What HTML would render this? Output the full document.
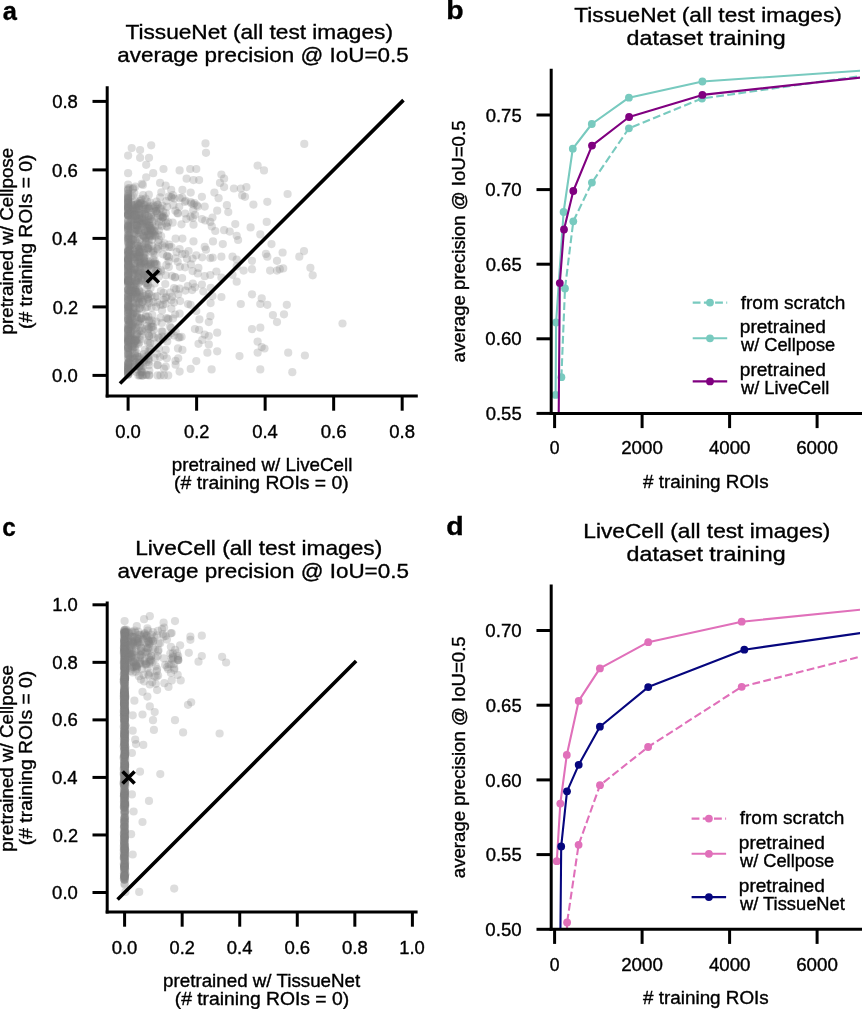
<!DOCTYPE html>
<html><head><meta charset="utf-8"><style>
html,body{margin:0;padding:0;background:#fff;}
svg{display:block;will-change:transform;}
text{font-family:"Liberation Sans", sans-serif; fill:#000; stroke:#000; stroke-width:0.35px;}
</style></head><body>
<svg width="862" height="1009" viewBox="0 0 862 1009">
<rect width="862" height="1009" fill="#fff"/>
<g>
<g fill="#808080" fill-opacity="0.27">
<circle cx="128.1" cy="260.9" r="4.1"/>
<circle cx="128.1" cy="211.0" r="4.1"/>
<circle cx="128.1" cy="233.3" r="4.1"/>
<circle cx="128.1" cy="334.1" r="4.1"/>
<circle cx="128.1" cy="320.4" r="4.1"/>
<circle cx="128.1" cy="215.3" r="4.1"/>
<circle cx="128.1" cy="374.4" r="4.1"/>
<circle cx="128.1" cy="224.9" r="4.1"/>
<circle cx="128.1" cy="229.3" r="4.1"/>
<circle cx="128.1" cy="289.7" r="4.1"/>
<circle cx="128.1" cy="319.9" r="4.1"/>
<circle cx="128.1" cy="324.4" r="4.1"/>
<circle cx="128.1" cy="328.7" r="4.1"/>
<circle cx="128.1" cy="293.8" r="4.1"/>
<circle cx="128.1" cy="282.9" r="4.1"/>
<circle cx="128.1" cy="274.0" r="4.1"/>
<circle cx="128.1" cy="193.0" r="4.1"/>
<circle cx="128.1" cy="230.2" r="4.1"/>
<circle cx="128.1" cy="261.4" r="4.1"/>
<circle cx="128.1" cy="194.2" r="4.1"/>
<circle cx="128.1" cy="335.9" r="4.1"/>
<circle cx="128.1" cy="346.0" r="4.1"/>
<circle cx="128.1" cy="263.2" r="4.1"/>
<circle cx="128.1" cy="367.3" r="4.1"/>
<circle cx="128.1" cy="368.9" r="4.1"/>
<circle cx="128.1" cy="281.1" r="4.1"/>
<circle cx="128.1" cy="290.0" r="4.1"/>
<circle cx="128.1" cy="207.3" r="4.1"/>
<circle cx="128.1" cy="260.1" r="4.1"/>
<circle cx="128.1" cy="281.2" r="4.1"/>
<circle cx="128.1" cy="284.4" r="4.1"/>
<circle cx="128.1" cy="330.0" r="4.1"/>
<circle cx="128.1" cy="373.2" r="4.1"/>
<circle cx="128.1" cy="340.1" r="4.1"/>
<circle cx="128.1" cy="248.6" r="4.1"/>
<circle cx="128.1" cy="338.6" r="4.1"/>
<circle cx="128.1" cy="307.7" r="4.1"/>
<circle cx="128.1" cy="374.7" r="4.1"/>
<circle cx="128.1" cy="223.3" r="4.1"/>
<circle cx="128.1" cy="347.1" r="4.1"/>
<circle cx="128.1" cy="326.4" r="4.1"/>
<circle cx="128.1" cy="214.1" r="4.1"/>
<circle cx="128.1" cy="282.0" r="4.1"/>
<circle cx="128.1" cy="220.2" r="4.1"/>
<circle cx="128.1" cy="258.2" r="4.1"/>
<circle cx="128.1" cy="239.5" r="4.1"/>
<circle cx="128.1" cy="358.6" r="4.1"/>
<circle cx="128.1" cy="276.2" r="4.1"/>
<circle cx="128.1" cy="282.4" r="4.1"/>
<circle cx="128.1" cy="215.7" r="4.1"/>
<circle cx="128.1" cy="309.2" r="4.1"/>
<circle cx="128.1" cy="265.8" r="4.1"/>
<circle cx="128.1" cy="364.5" r="4.1"/>
<circle cx="128.1" cy="304.4" r="4.1"/>
<circle cx="128.1" cy="316.2" r="4.1"/>
<circle cx="128.1" cy="347.9" r="4.1"/>
<circle cx="128.1" cy="225.8" r="4.1"/>
<circle cx="128.1" cy="305.9" r="4.1"/>
<circle cx="128.1" cy="196.1" r="4.1"/>
<circle cx="128.1" cy="267.3" r="4.1"/>
<circle cx="128.1" cy="264.5" r="4.1"/>
<circle cx="128.1" cy="258.5" r="4.1"/>
<circle cx="128.1" cy="251.4" r="4.1"/>
<circle cx="128.1" cy="347.8" r="4.1"/>
<circle cx="128.1" cy="294.7" r="4.1"/>
<circle cx="128.1" cy="331.5" r="4.1"/>
<circle cx="128.1" cy="301.6" r="4.1"/>
<circle cx="128.1" cy="357.7" r="4.1"/>
<circle cx="128.1" cy="198.1" r="4.1"/>
<circle cx="128.1" cy="336.0" r="4.1"/>
<circle cx="128.1" cy="252.3" r="4.1"/>
<circle cx="128.1" cy="320.4" r="4.1"/>
<circle cx="128.1" cy="215.2" r="4.1"/>
<circle cx="128.1" cy="254.1" r="4.1"/>
<circle cx="128.1" cy="351.3" r="4.1"/>
<circle cx="128.1" cy="220.6" r="4.1"/>
<circle cx="128.1" cy="202.3" r="4.1"/>
<circle cx="128.1" cy="209.8" r="4.1"/>
<circle cx="128.1" cy="271.0" r="4.1"/>
<circle cx="128.1" cy="348.7" r="4.1"/>
<circle cx="128.1" cy="340.1" r="4.1"/>
<circle cx="128.1" cy="205.4" r="4.1"/>
<circle cx="128.1" cy="274.2" r="4.1"/>
<circle cx="128.1" cy="342.3" r="4.1"/>
<circle cx="128.1" cy="213.4" r="4.1"/>
<circle cx="128.1" cy="257.8" r="4.1"/>
<circle cx="128.1" cy="271.0" r="4.1"/>
<circle cx="128.1" cy="306.4" r="4.1"/>
<circle cx="128.1" cy="300.1" r="4.1"/>
<circle cx="128.1" cy="331.5" r="4.1"/>
<circle cx="128.1" cy="368.4" r="4.1"/>
<circle cx="128.1" cy="214.8" r="4.1"/>
<circle cx="128.1" cy="289.7" r="4.1"/>
<circle cx="128.1" cy="275.1" r="4.1"/>
<circle cx="128.1" cy="316.4" r="4.1"/>
<circle cx="128.1" cy="237.7" r="4.1"/>
<circle cx="128.1" cy="370.8" r="4.1"/>
<circle cx="128.1" cy="307.2" r="4.1"/>
<circle cx="128.1" cy="369.8" r="4.1"/>
<circle cx="128.1" cy="352.9" r="4.1"/>
<circle cx="128.1" cy="198.2" r="4.1"/>
<circle cx="128.1" cy="254.9" r="4.1"/>
<circle cx="128.1" cy="296.9" r="4.1"/>
<circle cx="128.1" cy="279.4" r="4.1"/>
<circle cx="128.1" cy="215.5" r="4.1"/>
<circle cx="128.1" cy="312.3" r="4.1"/>
<circle cx="128.1" cy="267.2" r="4.1"/>
<circle cx="128.1" cy="250.1" r="4.1"/>
<circle cx="128.1" cy="310.3" r="4.1"/>
<circle cx="128.1" cy="280.3" r="4.1"/>
<circle cx="128.1" cy="235.2" r="4.1"/>
<circle cx="128.1" cy="208.8" r="4.1"/>
<circle cx="128.1" cy="347.7" r="4.1"/>
<circle cx="128.1" cy="204.4" r="4.1"/>
<circle cx="128.1" cy="374.5" r="4.1"/>
<circle cx="128.1" cy="237.4" r="4.1"/>
<circle cx="128.1" cy="226.9" r="4.1"/>
<circle cx="128.1" cy="350.3" r="4.1"/>
<circle cx="128.1" cy="298.6" r="4.1"/>
<circle cx="128.1" cy="226.0" r="4.1"/>
<circle cx="128.1" cy="372.8" r="4.1"/>
<circle cx="128.1" cy="260.2" r="4.1"/>
<circle cx="128.1" cy="230.1" r="4.1"/>
<circle cx="128.1" cy="281.4" r="4.1"/>
<circle cx="128.1" cy="242.4" r="4.1"/>
<circle cx="128.1" cy="333.9" r="4.1"/>
<circle cx="128.1" cy="339.0" r="4.1"/>
<circle cx="128.1" cy="308.9" r="4.1"/>
<circle cx="128.1" cy="342.5" r="4.1"/>
<circle cx="128.1" cy="312.0" r="4.1"/>
<circle cx="128.1" cy="201.7" r="4.1"/>
<circle cx="128.1" cy="270.3" r="4.1"/>
<circle cx="128.1" cy="313.1" r="4.1"/>
<circle cx="128.1" cy="325.6" r="4.1"/>
<circle cx="128.1" cy="201.0" r="4.1"/>
<circle cx="128.1" cy="294.0" r="4.1"/>
<circle cx="128.1" cy="195.8" r="4.1"/>
<circle cx="128.1" cy="280.9" r="4.1"/>
<circle cx="128.1" cy="279.9" r="4.1"/>
<circle cx="128.1" cy="211.1" r="4.1"/>
<circle cx="128.1" cy="239.3" r="4.1"/>
<circle cx="128.1" cy="269.0" r="4.1"/>
<circle cx="128.1" cy="297.2" r="4.1"/>
<circle cx="128.1" cy="214.5" r="4.1"/>
<circle cx="128.1" cy="300.0" r="4.1"/>
<circle cx="128.1" cy="206.3" r="4.1"/>
<circle cx="128.1" cy="362.8" r="4.1"/>
<circle cx="128.1" cy="296.6" r="4.1"/>
<circle cx="128.1" cy="280.2" r="4.1"/>
<circle cx="128.1" cy="201.2" r="4.1"/>
<circle cx="128.1" cy="329.4" r="4.1"/>
<circle cx="128.1" cy="227.7" r="4.1"/>
<circle cx="128.1" cy="251.4" r="4.1"/>
<circle cx="128.1" cy="244.0" r="4.1"/>
<circle cx="128.1" cy="260.0" r="4.1"/>
<circle cx="128.1" cy="197.4" r="4.1"/>
<circle cx="128.1" cy="314.4" r="4.1"/>
<circle cx="128.1" cy="302.4" r="4.1"/>
<circle cx="128.1" cy="338.2" r="4.1"/>
<circle cx="128.1" cy="366.1" r="4.1"/>
<circle cx="128.1" cy="336.4" r="4.1"/>
<circle cx="128.1" cy="207.7" r="4.1"/>
<circle cx="128.1" cy="221.4" r="4.1"/>
<circle cx="128.1" cy="354.8" r="4.1"/>
<circle cx="128.1" cy="264.8" r="4.1"/>
<circle cx="128.1" cy="287.6" r="4.1"/>
<circle cx="128.1" cy="266.4" r="4.1"/>
<circle cx="128.1" cy="254.6" r="4.1"/>
<circle cx="128.1" cy="319.2" r="4.1"/>
<circle cx="128.1" cy="199.2" r="4.1"/>
<circle cx="128.1" cy="290.0" r="4.1"/>
<circle cx="128.1" cy="260.3" r="4.1"/>
<circle cx="128.1" cy="259.0" r="4.1"/>
<circle cx="128.1" cy="341.7" r="4.1"/>
<circle cx="128.1" cy="364.1" r="4.1"/>
<circle cx="128.1" cy="300.0" r="4.1"/>
<circle cx="128.1" cy="235.4" r="4.1"/>
<circle cx="128.1" cy="226.0" r="4.1"/>
<circle cx="128.1" cy="241.6" r="4.1"/>
<circle cx="128.1" cy="354.7" r="4.1"/>
<circle cx="128.1" cy="208.0" r="4.1"/>
<circle cx="128.1" cy="228.4" r="4.1"/>
<circle cx="128.1" cy="214.6" r="4.1"/>
<circle cx="128.1" cy="279.5" r="4.1"/>
<circle cx="128.1" cy="207.6" r="4.1"/>
<circle cx="128.1" cy="366.9" r="4.1"/>
<circle cx="128.1" cy="369.8" r="4.1"/>
<circle cx="128.1" cy="371.7" r="4.1"/>
<circle cx="128.1" cy="329.1" r="4.1"/>
<circle cx="128.1" cy="329.9" r="4.1"/>
<circle cx="128.1" cy="341.0" r="4.1"/>
<circle cx="128.1" cy="271.5" r="4.1"/>
<circle cx="128.1" cy="368.3" r="4.1"/>
<circle cx="128.1" cy="267.2" r="4.1"/>
<circle cx="128.1" cy="345.0" r="4.1"/>
<circle cx="128.1" cy="251.2" r="4.1"/>
<circle cx="128.1" cy="371.5" r="4.1"/>
<circle cx="128.1" cy="318.5" r="4.1"/>
<circle cx="128.1" cy="203.5" r="4.1"/>
<circle cx="128.1" cy="276.7" r="4.1"/>
<circle cx="128.1" cy="184.7" r="4.1"/>
<circle cx="128.1" cy="188.4" r="4.1"/>
<circle cx="128.1" cy="189.5" r="4.1"/>
<circle cx="128.1" cy="199.6" r="4.1"/>
<circle cx="128.1" cy="190.4" r="4.1"/>
<circle cx="128.1" cy="203.2" r="4.1"/>
<circle cx="136.3" cy="284.4" r="4.1"/>
<circle cx="146.3" cy="209.0" r="4.1"/>
<circle cx="145.3" cy="241.7" r="4.1"/>
<circle cx="140.5" cy="264.1" r="4.1"/>
<circle cx="137.6" cy="271.9" r="4.1"/>
<circle cx="129.2" cy="253.1" r="4.1"/>
<circle cx="139.0" cy="218.6" r="4.1"/>
<circle cx="130.2" cy="281.8" r="4.1"/>
<circle cx="133.5" cy="254.9" r="4.1"/>
<circle cx="130.4" cy="358.8" r="4.1"/>
<circle cx="130.2" cy="307.0" r="4.1"/>
<circle cx="139.6" cy="252.6" r="4.1"/>
<circle cx="135.6" cy="228.8" r="4.1"/>
<circle cx="130.1" cy="290.6" r="4.1"/>
<circle cx="148.6" cy="233.4" r="4.1"/>
<circle cx="136.6" cy="257.8" r="4.1"/>
<circle cx="129.2" cy="308.0" r="4.1"/>
<circle cx="132.0" cy="279.5" r="4.1"/>
<circle cx="144.6" cy="219.8" r="4.1"/>
<circle cx="137.6" cy="225.7" r="4.1"/>
<circle cx="166.6" cy="226.1" r="4.1"/>
<circle cx="128.3" cy="341.9" r="4.1"/>
<circle cx="133.8" cy="347.5" r="4.1"/>
<circle cx="142.8" cy="224.2" r="4.1"/>
<circle cx="158.0" cy="246.6" r="4.1"/>
<circle cx="130.0" cy="350.7" r="4.1"/>
<circle cx="129.1" cy="234.9" r="4.1"/>
<circle cx="131.2" cy="244.8" r="4.1"/>
<circle cx="131.3" cy="281.7" r="4.1"/>
<circle cx="131.8" cy="324.4" r="4.1"/>
<circle cx="146.2" cy="221.4" r="4.1"/>
<circle cx="142.2" cy="218.5" r="4.1"/>
<circle cx="145.1" cy="261.3" r="4.1"/>
<circle cx="143.1" cy="195.1" r="4.1"/>
<circle cx="131.1" cy="263.2" r="4.1"/>
<circle cx="140.2" cy="266.2" r="4.1"/>
<circle cx="130.3" cy="358.1" r="4.1"/>
<circle cx="135.2" cy="302.2" r="4.1"/>
<circle cx="135.6" cy="263.0" r="4.1"/>
<circle cx="131.8" cy="297.0" r="4.1"/>
<circle cx="128.7" cy="250.7" r="4.1"/>
<circle cx="144.1" cy="222.0" r="4.1"/>
<circle cx="138.3" cy="298.5" r="4.1"/>
<circle cx="134.2" cy="234.5" r="4.1"/>
<circle cx="136.1" cy="233.5" r="4.1"/>
<circle cx="136.4" cy="210.7" r="4.1"/>
<circle cx="134.2" cy="232.8" r="4.1"/>
<circle cx="148.9" cy="225.5" r="4.1"/>
<circle cx="130.6" cy="333.6" r="4.1"/>
<circle cx="138.3" cy="248.2" r="4.1"/>
<circle cx="136.6" cy="207.5" r="4.1"/>
<circle cx="133.6" cy="358.5" r="4.1"/>
<circle cx="152.5" cy="236.1" r="4.1"/>
<circle cx="133.6" cy="343.2" r="4.1"/>
<circle cx="131.3" cy="241.9" r="4.1"/>
<circle cx="131.2" cy="257.1" r="4.1"/>
<circle cx="142.3" cy="214.0" r="4.1"/>
<circle cx="148.0" cy="263.6" r="4.1"/>
<circle cx="132.9" cy="239.5" r="4.1"/>
<circle cx="135.8" cy="257.2" r="4.1"/>
<circle cx="130.8" cy="329.2" r="4.1"/>
<circle cx="140.0" cy="295.4" r="4.1"/>
<circle cx="147.5" cy="227.4" r="4.1"/>
<circle cx="132.2" cy="208.8" r="4.1"/>
<circle cx="131.7" cy="215.4" r="4.1"/>
<circle cx="134.5" cy="283.8" r="4.1"/>
<circle cx="139.5" cy="215.5" r="4.1"/>
<circle cx="145.0" cy="209.4" r="4.1"/>
<circle cx="135.3" cy="231.1" r="4.1"/>
<circle cx="128.2" cy="283.0" r="4.1"/>
<circle cx="128.6" cy="363.1" r="4.1"/>
<circle cx="147.6" cy="224.5" r="4.1"/>
<circle cx="129.7" cy="321.5" r="4.1"/>
<circle cx="136.3" cy="282.3" r="4.1"/>
<circle cx="128.5" cy="362.9" r="4.1"/>
<circle cx="155.8" cy="210.9" r="4.1"/>
<circle cx="133.5" cy="289.2" r="4.1"/>
<circle cx="131.8" cy="247.9" r="4.1"/>
<circle cx="139.6" cy="308.6" r="4.1"/>
<circle cx="141.5" cy="278.0" r="4.1"/>
<circle cx="133.3" cy="358.1" r="4.1"/>
<circle cx="134.2" cy="291.6" r="4.1"/>
<circle cx="131.6" cy="340.2" r="4.1"/>
<circle cx="128.7" cy="274.0" r="4.1"/>
<circle cx="132.8" cy="302.1" r="4.1"/>
<circle cx="129.4" cy="213.4" r="4.1"/>
<circle cx="137.1" cy="316.9" r="4.1"/>
<circle cx="132.4" cy="318.7" r="4.1"/>
<circle cx="131.1" cy="286.7" r="4.1"/>
<circle cx="141.8" cy="183.9" r="4.1"/>
<circle cx="142.9" cy="184.9" r="4.1"/>
<circle cx="139.1" cy="262.3" r="4.1"/>
<circle cx="144.7" cy="214.1" r="4.1"/>
<circle cx="149.0" cy="208.3" r="4.1"/>
<circle cx="141.2" cy="280.4" r="4.1"/>
<circle cx="132.0" cy="294.5" r="4.1"/>
<circle cx="167.2" cy="206.8" r="4.1"/>
<circle cx="139.2" cy="257.6" r="4.1"/>
<circle cx="141.3" cy="223.7" r="4.1"/>
<circle cx="130.9" cy="255.6" r="4.1"/>
<circle cx="142.4" cy="234.8" r="4.1"/>
<circle cx="132.0" cy="220.4" r="4.1"/>
<circle cx="129.5" cy="320.3" r="4.1"/>
<circle cx="133.3" cy="303.2" r="4.1"/>
<circle cx="134.8" cy="353.4" r="4.1"/>
<circle cx="152.1" cy="239.8" r="4.1"/>
<circle cx="130.6" cy="313.2" r="4.1"/>
<circle cx="130.9" cy="290.2" r="4.1"/>
<circle cx="132.9" cy="294.3" r="4.1"/>
<circle cx="129.8" cy="253.1" r="4.1"/>
<circle cx="135.7" cy="288.7" r="4.1"/>
<circle cx="129.9" cy="249.5" r="4.1"/>
<circle cx="134.5" cy="205.0" r="4.1"/>
<circle cx="132.0" cy="326.7" r="4.1"/>
<circle cx="161.3" cy="192.4" r="4.1"/>
<circle cx="144.2" cy="260.8" r="4.1"/>
<circle cx="153.2" cy="259.4" r="4.1"/>
<circle cx="141.9" cy="220.4" r="4.1"/>
<circle cx="140.1" cy="249.2" r="4.1"/>
<circle cx="138.8" cy="301.6" r="4.1"/>
<circle cx="129.1" cy="292.7" r="4.1"/>
<circle cx="141.0" cy="198.8" r="4.1"/>
<circle cx="133.1" cy="290.6" r="4.1"/>
<circle cx="133.5" cy="327.1" r="4.1"/>
<circle cx="135.0" cy="289.8" r="4.1"/>
<circle cx="129.6" cy="249.6" r="4.1"/>
<circle cx="142.6" cy="301.7" r="4.1"/>
<circle cx="130.3" cy="222.4" r="4.1"/>
<circle cx="128.5" cy="340.2" r="4.1"/>
<circle cx="138.9" cy="205.9" r="4.1"/>
<circle cx="135.4" cy="270.0" r="4.1"/>
<circle cx="148.5" cy="261.9" r="4.1"/>
<circle cx="141.0" cy="263.3" r="4.1"/>
<circle cx="132.4" cy="346.1" r="4.1"/>
<circle cx="135.0" cy="289.9" r="4.1"/>
<circle cx="143.5" cy="236.1" r="4.1"/>
<circle cx="141.2" cy="318.8" r="4.1"/>
<circle cx="133.1" cy="208.9" r="4.1"/>
<circle cx="134.5" cy="285.8" r="4.1"/>
<circle cx="135.3" cy="186.7" r="4.1"/>
<circle cx="135.2" cy="313.1" r="4.1"/>
<circle cx="133.5" cy="322.1" r="4.1"/>
<circle cx="148.6" cy="220.1" r="4.1"/>
<circle cx="139.4" cy="296.8" r="4.1"/>
<circle cx="128.9" cy="259.3" r="4.1"/>
<circle cx="137.3" cy="219.2" r="4.1"/>
<circle cx="139.4" cy="208.0" r="4.1"/>
<circle cx="150.2" cy="219.0" r="4.1"/>
<circle cx="136.0" cy="303.3" r="4.1"/>
<circle cx="140.0" cy="270.6" r="4.1"/>
<circle cx="129.9" cy="335.3" r="4.1"/>
<circle cx="133.6" cy="307.9" r="4.1"/>
<circle cx="129.3" cy="245.9" r="4.1"/>
<circle cx="130.2" cy="272.6" r="4.1"/>
<circle cx="136.4" cy="291.8" r="4.1"/>
<circle cx="143.8" cy="273.6" r="4.1"/>
<circle cx="132.6" cy="337.6" r="4.1"/>
<circle cx="142.5" cy="273.0" r="4.1"/>
<circle cx="137.0" cy="340.0" r="4.1"/>
<circle cx="137.0" cy="225.4" r="4.1"/>
<circle cx="145.9" cy="209.1" r="4.1"/>
<circle cx="134.4" cy="245.1" r="4.1"/>
<circle cx="128.3" cy="362.5" r="4.1"/>
<circle cx="131.0" cy="268.5" r="4.1"/>
<circle cx="133.1" cy="339.1" r="4.1"/>
<circle cx="143.1" cy="207.2" r="4.1"/>
<circle cx="129.7" cy="188.1" r="4.1"/>
<circle cx="133.4" cy="188.1" r="4.1"/>
<circle cx="142.9" cy="223.1" r="4.1"/>
<circle cx="134.4" cy="193.2" r="4.1"/>
<circle cx="132.0" cy="214.1" r="4.1"/>
<circle cx="136.7" cy="292.2" r="4.1"/>
<circle cx="128.2" cy="258.4" r="4.1"/>
<circle cx="129.4" cy="340.9" r="4.1"/>
<circle cx="129.6" cy="246.0" r="4.1"/>
<circle cx="128.5" cy="365.7" r="4.1"/>
<circle cx="131.4" cy="334.7" r="4.1"/>
<circle cx="133.2" cy="239.8" r="4.1"/>
<circle cx="135.5" cy="273.8" r="4.1"/>
<circle cx="137.8" cy="209.2" r="4.1"/>
<circle cx="135.7" cy="322.6" r="4.1"/>
<circle cx="148.7" cy="244.9" r="4.1"/>
<circle cx="130.5" cy="320.5" r="4.1"/>
<circle cx="130.7" cy="317.1" r="4.1"/>
<circle cx="129.9" cy="266.5" r="4.1"/>
<circle cx="132.1" cy="286.6" r="4.1"/>
<circle cx="136.0" cy="204.4" r="4.1"/>
<circle cx="135.3" cy="281.4" r="4.1"/>
<circle cx="129.2" cy="322.2" r="4.1"/>
<circle cx="145.1" cy="214.5" r="4.1"/>
<circle cx="136.6" cy="317.5" r="4.1"/>
<circle cx="142.5" cy="216.3" r="4.1"/>
<circle cx="130.5" cy="344.3" r="4.1"/>
<circle cx="131.9" cy="339.8" r="4.1"/>
<circle cx="137.9" cy="230.3" r="4.1"/>
<circle cx="144.7" cy="212.6" r="4.1"/>
<circle cx="131.3" cy="212.2" r="4.1"/>
<circle cx="133.7" cy="309.3" r="4.1"/>
<circle cx="132.2" cy="258.7" r="4.1"/>
<circle cx="139.9" cy="203.6" r="4.1"/>
<circle cx="129.2" cy="326.3" r="4.1"/>
<circle cx="130.2" cy="250.1" r="4.1"/>
<circle cx="128.4" cy="278.8" r="4.1"/>
<circle cx="135.7" cy="225.2" r="4.1"/>
<circle cx="169.0" cy="257.2" r="4.1"/>
<circle cx="128.6" cy="328.1" r="4.1"/>
<circle cx="157.3" cy="204.5" r="4.1"/>
<circle cx="130.3" cy="285.7" r="4.1"/>
<circle cx="139.3" cy="273.5" r="4.1"/>
<circle cx="129.9" cy="315.4" r="4.1"/>
<circle cx="133.6" cy="218.9" r="4.1"/>
<circle cx="130.5" cy="229.2" r="4.1"/>
<circle cx="129.7" cy="242.4" r="4.1"/>
<circle cx="132.9" cy="286.6" r="4.1"/>
<circle cx="133.9" cy="272.9" r="4.1"/>
<circle cx="137.3" cy="273.0" r="4.1"/>
<circle cx="132.8" cy="347.4" r="4.1"/>
<circle cx="128.3" cy="265.5" r="4.1"/>
<circle cx="132.0" cy="345.9" r="4.1"/>
<circle cx="131.8" cy="211.6" r="4.1"/>
<circle cx="128.9" cy="254.2" r="4.1"/>
<circle cx="130.3" cy="233.4" r="4.1"/>
<circle cx="133.4" cy="254.6" r="4.1"/>
<circle cx="139.9" cy="218.2" r="4.1"/>
<circle cx="130.2" cy="286.2" r="4.1"/>
<circle cx="135.0" cy="269.1" r="4.1"/>
<circle cx="132.5" cy="325.8" r="4.1"/>
<circle cx="144.2" cy="275.2" r="4.1"/>
<circle cx="132.8" cy="189.2" r="4.1"/>
<circle cx="131.1" cy="267.5" r="4.1"/>
<circle cx="147.5" cy="231.0" r="4.1"/>
<circle cx="136.8" cy="297.4" r="4.1"/>
<circle cx="133.8" cy="263.7" r="4.1"/>
<circle cx="134.0" cy="212.4" r="4.1"/>
<circle cx="140.5" cy="330.8" r="4.1"/>
<circle cx="129.9" cy="338.6" r="4.1"/>
<circle cx="134.1" cy="258.9" r="4.1"/>
<circle cx="130.2" cy="245.8" r="4.1"/>
<circle cx="145.8" cy="240.5" r="4.1"/>
<circle cx="131.1" cy="368.9" r="4.1"/>
<circle cx="131.5" cy="291.4" r="4.1"/>
<circle cx="131.7" cy="280.6" r="4.1"/>
<circle cx="131.8" cy="205.6" r="4.1"/>
<circle cx="130.4" cy="372.1" r="4.1"/>
<circle cx="144.2" cy="257.6" r="4.1"/>
<circle cx="129.1" cy="359.2" r="4.1"/>
<circle cx="149.0" cy="217.1" r="4.1"/>
<circle cx="140.5" cy="224.5" r="4.1"/>
<circle cx="142.0" cy="246.5" r="4.1"/>
<circle cx="162.4" cy="245.4" r="4.1"/>
<circle cx="136.3" cy="280.8" r="4.1"/>
<circle cx="131.9" cy="316.7" r="4.1"/>
<circle cx="134.0" cy="312.3" r="4.1"/>
<circle cx="139.1" cy="356.8" r="4.1"/>
<circle cx="131.2" cy="331.5" r="4.1"/>
<circle cx="129.3" cy="310.8" r="4.1"/>
<circle cx="138.6" cy="261.5" r="4.1"/>
<circle cx="133.1" cy="294.3" r="4.1"/>
<circle cx="134.1" cy="269.5" r="4.1"/>
<circle cx="131.1" cy="220.3" r="4.1"/>
<circle cx="137.1" cy="225.8" r="4.1"/>
<circle cx="145.8" cy="243.6" r="4.1"/>
<circle cx="138.4" cy="276.4" r="4.1"/>
<circle cx="129.6" cy="355.5" r="4.1"/>
<circle cx="144.1" cy="253.2" r="4.1"/>
<circle cx="136.0" cy="335.4" r="4.1"/>
<circle cx="145.2" cy="232.2" r="4.1"/>
<circle cx="136.7" cy="253.8" r="4.1"/>
<circle cx="143.6" cy="235.6" r="4.1"/>
<circle cx="128.7" cy="354.8" r="4.1"/>
<circle cx="131.6" cy="210.2" r="4.1"/>
<circle cx="129.1" cy="235.8" r="4.1"/>
<circle cx="129.2" cy="324.4" r="4.1"/>
<circle cx="133.4" cy="270.4" r="4.1"/>
<circle cx="132.0" cy="272.4" r="4.1"/>
<circle cx="136.8" cy="269.3" r="4.1"/>
<circle cx="130.8" cy="256.7" r="4.1"/>
<circle cx="132.4" cy="214.4" r="4.1"/>
<circle cx="129.0" cy="291.6" r="4.1"/>
<circle cx="133.3" cy="250.4" r="4.1"/>
<circle cx="137.4" cy="254.3" r="4.1"/>
<circle cx="132.3" cy="204.6" r="4.1"/>
<circle cx="132.8" cy="196.1" r="4.1"/>
<circle cx="129.0" cy="367.4" r="4.1"/>
<circle cx="148.8" cy="222.3" r="4.1"/>
<circle cx="137.9" cy="262.0" r="4.1"/>
<circle cx="133.7" cy="330.3" r="4.1"/>
<circle cx="135.9" cy="252.5" r="4.1"/>
<circle cx="132.1" cy="278.9" r="4.1"/>
<circle cx="150.3" cy="229.4" r="4.1"/>
<circle cx="138.8" cy="255.7" r="4.1"/>
<circle cx="130.4" cy="340.8" r="4.1"/>
<circle cx="138.9" cy="233.1" r="4.1"/>
<circle cx="131.9" cy="356.5" r="4.1"/>
<circle cx="133.0" cy="314.0" r="4.1"/>
<circle cx="130.0" cy="297.9" r="4.1"/>
<circle cx="129.9" cy="338.9" r="4.1"/>
<circle cx="134.1" cy="222.3" r="4.1"/>
<circle cx="132.3" cy="226.0" r="4.1"/>
<circle cx="139.7" cy="204.5" r="4.1"/>
<circle cx="128.3" cy="289.7" r="4.1"/>
<circle cx="136.6" cy="215.0" r="4.1"/>
<circle cx="128.7" cy="238.7" r="4.1"/>
<circle cx="130.8" cy="323.2" r="4.1"/>
<circle cx="139.9" cy="260.9" r="4.1"/>
<circle cx="130.4" cy="226.8" r="4.1"/>
<circle cx="133.3" cy="208.6" r="4.1"/>
<circle cx="131.4" cy="239.1" r="4.1"/>
<circle cx="133.6" cy="307.3" r="4.1"/>
<circle cx="133.4" cy="275.0" r="4.1"/>
<circle cx="147.5" cy="299.3" r="4.1"/>
<circle cx="131.9" cy="239.9" r="4.1"/>
<circle cx="133.1" cy="210.9" r="4.1"/>
<circle cx="131.1" cy="296.5" r="4.1"/>
<circle cx="139.3" cy="342.4" r="4.1"/>
<circle cx="129.4" cy="265.9" r="4.1"/>
<circle cx="131.4" cy="338.3" r="4.1"/>
<circle cx="143.5" cy="258.1" r="4.1"/>
<circle cx="130.2" cy="291.1" r="4.1"/>
<circle cx="137.5" cy="245.5" r="4.1"/>
<circle cx="131.5" cy="204.4" r="4.1"/>
<circle cx="130.8" cy="196.7" r="4.1"/>
<circle cx="132.8" cy="292.0" r="4.1"/>
<circle cx="128.7" cy="246.1" r="4.1"/>
<circle cx="133.8" cy="344.2" r="4.1"/>
<circle cx="131.1" cy="227.7" r="4.1"/>
<circle cx="138.0" cy="237.2" r="4.1"/>
<circle cx="136.6" cy="343.1" r="4.1"/>
<circle cx="138.0" cy="221.2" r="4.1"/>
<circle cx="131.4" cy="244.2" r="4.1"/>
<circle cx="144.5" cy="223.9" r="4.1"/>
<circle cx="139.6" cy="256.1" r="4.1"/>
<circle cx="148.9" cy="240.7" r="4.1"/>
<circle cx="138.4" cy="277.8" r="4.1"/>
<circle cx="129.6" cy="237.8" r="4.1"/>
<circle cx="129.4" cy="334.8" r="4.1"/>
<circle cx="129.4" cy="305.4" r="4.1"/>
<circle cx="132.4" cy="219.0" r="4.1"/>
<circle cx="130.0" cy="280.4" r="4.1"/>
<circle cx="135.8" cy="273.6" r="4.1"/>
<circle cx="135.1" cy="355.4" r="4.1"/>
<circle cx="137.1" cy="229.9" r="4.1"/>
<circle cx="140.8" cy="318.3" r="4.1"/>
<circle cx="128.6" cy="305.7" r="4.1"/>
<circle cx="128.1" cy="275.1" r="4.1"/>
<circle cx="145.0" cy="270.9" r="4.1"/>
<circle cx="132.7" cy="314.1" r="4.1"/>
<circle cx="133.1" cy="324.9" r="4.1"/>
<circle cx="129.0" cy="280.5" r="4.1"/>
<circle cx="138.3" cy="320.5" r="4.1"/>
<circle cx="156.3" cy="208.8" r="4.1"/>
<circle cx="132.6" cy="349.8" r="4.1"/>
<circle cx="144.0" cy="205.1" r="4.1"/>
<circle cx="134.5" cy="215.9" r="4.1"/>
<circle cx="130.3" cy="331.7" r="4.1"/>
<circle cx="139.0" cy="250.6" r="4.1"/>
<circle cx="131.3" cy="342.1" r="4.1"/>
<circle cx="134.7" cy="257.2" r="4.1"/>
<circle cx="138.1" cy="245.6" r="4.1"/>
<circle cx="138.2" cy="229.6" r="4.1"/>
<circle cx="129.3" cy="243.3" r="4.1"/>
<circle cx="147.3" cy="231.3" r="4.1"/>
<circle cx="140.5" cy="248.7" r="4.1"/>
<circle cx="129.7" cy="362.8" r="4.1"/>
<circle cx="128.8" cy="264.8" r="4.1"/>
<circle cx="131.1" cy="297.7" r="4.1"/>
<circle cx="139.5" cy="321.4" r="4.1"/>
<circle cx="135.4" cy="280.3" r="4.1"/>
<circle cx="133.9" cy="266.2" r="4.1"/>
<circle cx="128.3" cy="305.0" r="4.1"/>
<circle cx="135.4" cy="240.7" r="4.1"/>
<circle cx="139.3" cy="246.7" r="4.1"/>
<circle cx="128.7" cy="273.6" r="4.1"/>
<circle cx="128.4" cy="206.6" r="4.1"/>
<circle cx="128.3" cy="209.3" r="4.1"/>
<circle cx="136.3" cy="252.0" r="4.1"/>
<circle cx="135.3" cy="207.2" r="4.1"/>
<circle cx="145.3" cy="205.3" r="4.1"/>
<circle cx="129.0" cy="371.1" r="4.1"/>
<circle cx="130.3" cy="214.9" r="4.1"/>
<circle cx="149.3" cy="375.0" r="4.1"/>
<circle cx="147.2" cy="340.5" r="4.1"/>
<circle cx="167.2" cy="226.9" r="4.1"/>
<circle cx="158.2" cy="337.6" r="4.1"/>
<circle cx="146.2" cy="362.2" r="4.1"/>
<circle cx="138.9" cy="331.5" r="4.1"/>
<circle cx="138.7" cy="282.9" r="4.1"/>
<circle cx="156.1" cy="271.0" r="4.1"/>
<circle cx="166.0" cy="223.2" r="4.1"/>
<circle cx="137.8" cy="202.9" r="4.1"/>
<circle cx="192.8" cy="217.9" r="4.1"/>
<circle cx="135.9" cy="295.2" r="4.1"/>
<circle cx="150.6" cy="350.1" r="4.1"/>
<circle cx="173.4" cy="205.2" r="4.1"/>
<circle cx="152.2" cy="334.7" r="4.1"/>
<circle cx="135.2" cy="264.6" r="4.1"/>
<circle cx="135.5" cy="328.3" r="4.1"/>
<circle cx="152.4" cy="229.9" r="4.1"/>
<circle cx="139.7" cy="339.6" r="4.1"/>
<circle cx="149.0" cy="300.5" r="4.1"/>
<circle cx="149.1" cy="336.3" r="4.1"/>
<circle cx="136.7" cy="222.1" r="4.1"/>
<circle cx="140.2" cy="265.1" r="4.1"/>
<circle cx="153.8" cy="263.1" r="4.1"/>
<circle cx="199.4" cy="319.4" r="4.1"/>
<circle cx="138.5" cy="344.0" r="4.1"/>
<circle cx="172.6" cy="222.7" r="4.1"/>
<circle cx="141.6" cy="244.6" r="4.1"/>
<circle cx="171.8" cy="197.8" r="4.1"/>
<circle cx="146.8" cy="275.7" r="4.1"/>
<circle cx="154.2" cy="343.6" r="4.1"/>
<circle cx="179.9" cy="266.8" r="4.1"/>
<circle cx="137.8" cy="324.2" r="4.1"/>
<circle cx="165.3" cy="284.0" r="4.1"/>
<circle cx="142.7" cy="293.6" r="4.1"/>
<circle cx="210.3" cy="275.0" r="4.1"/>
<circle cx="137.0" cy="211.3" r="4.1"/>
<circle cx="154.6" cy="231.1" r="4.1"/>
<circle cx="135.5" cy="229.8" r="4.1"/>
<circle cx="158.8" cy="222.1" r="4.1"/>
<circle cx="145.9" cy="237.6" r="4.1"/>
<circle cx="149.5" cy="277.2" r="4.1"/>
<circle cx="139.8" cy="215.2" r="4.1"/>
<circle cx="210.8" cy="287.8" r="4.1"/>
<circle cx="136.9" cy="356.5" r="4.1"/>
<circle cx="153.1" cy="326.9" r="4.1"/>
<circle cx="139.6" cy="307.9" r="4.1"/>
<circle cx="143.4" cy="300.1" r="4.1"/>
<circle cx="165.7" cy="303.8" r="4.1"/>
<circle cx="135.3" cy="341.2" r="4.1"/>
<circle cx="148.6" cy="358.7" r="4.1"/>
<circle cx="139.1" cy="366.7" r="4.1"/>
<circle cx="145.4" cy="255.6" r="4.1"/>
<circle cx="160.5" cy="317.7" r="4.1"/>
<circle cx="136.8" cy="294.0" r="4.1"/>
<circle cx="139.2" cy="208.8" r="4.1"/>
<circle cx="155.4" cy="263.8" r="4.1"/>
<circle cx="215.3" cy="231.0" r="4.1"/>
<circle cx="140.1" cy="239.6" r="4.1"/>
<circle cx="153.4" cy="205.5" r="4.1"/>
<circle cx="135.2" cy="363.5" r="4.1"/>
<circle cx="147.1" cy="307.0" r="4.1"/>
<circle cx="149.9" cy="206.3" r="4.1"/>
<circle cx="170.3" cy="292.7" r="4.1"/>
<circle cx="197.8" cy="206.6" r="4.1"/>
<circle cx="147.9" cy="342.5" r="4.1"/>
<circle cx="175.6" cy="364.7" r="4.1"/>
<circle cx="163.8" cy="215.9" r="4.1"/>
<circle cx="142.3" cy="302.2" r="4.1"/>
<circle cx="148.3" cy="284.9" r="4.1"/>
<circle cx="159.8" cy="208.6" r="4.1"/>
<circle cx="168.0" cy="336.3" r="4.1"/>
<circle cx="194.5" cy="203.0" r="4.1"/>
<circle cx="190.6" cy="304.8" r="4.1"/>
<circle cx="161.6" cy="331.3" r="4.1"/>
<circle cx="137.4" cy="333.8" r="4.1"/>
<circle cx="146.7" cy="283.1" r="4.1"/>
<circle cx="136.0" cy="292.2" r="4.1"/>
<circle cx="212.5" cy="217.6" r="4.1"/>
<circle cx="135.3" cy="366.4" r="4.1"/>
<circle cx="140.8" cy="367.6" r="4.1"/>
<circle cx="149.8" cy="348.2" r="4.1"/>
<circle cx="138.9" cy="289.9" r="4.1"/>
<circle cx="148.9" cy="266.1" r="4.1"/>
<circle cx="150.4" cy="261.0" r="4.1"/>
<circle cx="136.5" cy="372.0" r="4.1"/>
<circle cx="162.6" cy="331.5" r="4.1"/>
<circle cx="182.3" cy="197.7" r="4.1"/>
<circle cx="148.3" cy="316.5" r="4.1"/>
<circle cx="147.0" cy="287.7" r="4.1"/>
<circle cx="149.1" cy="335.8" r="4.1"/>
<circle cx="146.6" cy="375.0" r="4.1"/>
<circle cx="139.8" cy="336.7" r="4.1"/>
<circle cx="141.5" cy="318.1" r="4.1"/>
<circle cx="147.9" cy="297.2" r="4.1"/>
<circle cx="144.7" cy="295.8" r="4.1"/>
<circle cx="138.3" cy="277.7" r="4.1"/>
<circle cx="160.9" cy="291.0" r="4.1"/>
<circle cx="137.5" cy="369.5" r="4.1"/>
<circle cx="148.7" cy="327.9" r="4.1"/>
<circle cx="138.0" cy="204.1" r="4.1"/>
<circle cx="149.3" cy="370.5" r="4.1"/>
<circle cx="169.2" cy="244.7" r="4.1"/>
<circle cx="185.4" cy="290.6" r="4.1"/>
<circle cx="157.9" cy="249.5" r="4.1"/>
<circle cx="210.4" cy="316.2" r="4.1"/>
<circle cx="136.4" cy="309.5" r="4.1"/>
<circle cx="154.7" cy="283.4" r="4.1"/>
<circle cx="157.3" cy="213.4" r="4.1"/>
<circle cx="145.8" cy="316.9" r="4.1"/>
<circle cx="144.4" cy="360.1" r="4.1"/>
<circle cx="163.9" cy="368.6" r="4.1"/>
<circle cx="165.3" cy="218.4" r="4.1"/>
<circle cx="144.0" cy="319.5" r="4.1"/>
<circle cx="143.9" cy="354.1" r="4.1"/>
<circle cx="150.8" cy="269.2" r="4.1"/>
<circle cx="135.8" cy="224.9" r="4.1"/>
<circle cx="151.9" cy="268.6" r="4.1"/>
<circle cx="178.0" cy="348.4" r="4.1"/>
<circle cx="210.6" cy="303.1" r="4.1"/>
<circle cx="171.1" cy="327.9" r="4.1"/>
<circle cx="141.4" cy="372.4" r="4.1"/>
<circle cx="149.0" cy="293.6" r="4.1"/>
<circle cx="148.6" cy="351.4" r="4.1"/>
<circle cx="162.5" cy="217.8" r="4.1"/>
<circle cx="142.2" cy="199.9" r="4.1"/>
<circle cx="153.6" cy="330.2" r="4.1"/>
<circle cx="167.2" cy="341.5" r="4.1"/>
<circle cx="139.6" cy="281.9" r="4.1"/>
<circle cx="216.4" cy="271.5" r="4.1"/>
<circle cx="186.3" cy="219.0" r="4.1"/>
<circle cx="140.9" cy="203.1" r="4.1"/>
<circle cx="139.2" cy="213.3" r="4.1"/>
<circle cx="175.2" cy="314.5" r="4.1"/>
<circle cx="144.4" cy="271.1" r="4.1"/>
<circle cx="137.1" cy="353.3" r="4.1"/>
<circle cx="139.1" cy="362.8" r="4.1"/>
<circle cx="163.6" cy="355.6" r="4.1"/>
<circle cx="156.6" cy="353.7" r="4.1"/>
<circle cx="156.4" cy="321.7" r="4.1"/>
<circle cx="149.2" cy="320.2" r="4.1"/>
<circle cx="143.5" cy="249.8" r="4.1"/>
<circle cx="148.8" cy="361.9" r="4.1"/>
<circle cx="147.4" cy="355.6" r="4.1"/>
<circle cx="192.5" cy="258.5" r="4.1"/>
<circle cx="143.3" cy="255.6" r="4.1"/>
<circle cx="169.3" cy="247.1" r="4.1"/>
<circle cx="202.1" cy="257.3" r="4.1"/>
<circle cx="175.2" cy="277.0" r="4.1"/>
<circle cx="164.4" cy="243.4" r="4.1"/>
<circle cx="143.8" cy="360.9" r="4.1"/>
<circle cx="154.1" cy="337.7" r="4.1"/>
<circle cx="137.5" cy="243.3" r="4.1"/>
<circle cx="135.5" cy="341.1" r="4.1"/>
<circle cx="143.3" cy="280.9" r="4.1"/>
<circle cx="145.5" cy="329.0" r="4.1"/>
<circle cx="135.2" cy="298.6" r="4.1"/>
<circle cx="142.8" cy="226.8" r="4.1"/>
<circle cx="140.9" cy="257.7" r="4.1"/>
<circle cx="212.5" cy="296.1" r="4.1"/>
<circle cx="152.1" cy="326.7" r="4.1"/>
<circle cx="154.4" cy="232.0" r="4.1"/>
<circle cx="175.3" cy="258.4" r="4.1"/>
<circle cx="155.1" cy="297.0" r="4.1"/>
<circle cx="140.3" cy="252.1" r="4.1"/>
<circle cx="185.6" cy="200.8" r="4.1"/>
<circle cx="137.1" cy="257.1" r="4.1"/>
<circle cx="135.2" cy="215.1" r="4.1"/>
<circle cx="174.8" cy="277.4" r="4.1"/>
<circle cx="137.5" cy="248.9" r="4.1"/>
<circle cx="149.8" cy="225.4" r="4.1"/>
<circle cx="138.6" cy="359.3" r="4.1"/>
<circle cx="139.3" cy="290.9" r="4.1"/>
<circle cx="142.1" cy="267.5" r="4.1"/>
<circle cx="157.9" cy="365.1" r="4.1"/>
<circle cx="153.3" cy="234.8" r="4.1"/>
<circle cx="144.9" cy="248.0" r="4.1"/>
<circle cx="153.6" cy="208.7" r="4.1"/>
<circle cx="141.7" cy="309.1" r="4.1"/>
<circle cx="139.9" cy="291.8" r="4.1"/>
<circle cx="177.3" cy="213.0" r="4.1"/>
<circle cx="153.3" cy="302.1" r="4.1"/>
<circle cx="155.1" cy="226.8" r="4.1"/>
<circle cx="171.5" cy="300.3" r="4.1"/>
<circle cx="136.3" cy="315.2" r="4.1"/>
<circle cx="147.1" cy="326.0" r="4.1"/>
<circle cx="178.4" cy="337.4" r="4.1"/>
<circle cx="140.5" cy="298.6" r="4.1"/>
<circle cx="135.1" cy="346.6" r="4.1"/>
<circle cx="140.0" cy="227.9" r="4.1"/>
<circle cx="184.8" cy="201.9" r="4.1"/>
<circle cx="135.8" cy="358.0" r="4.1"/>
<circle cx="135.7" cy="365.6" r="4.1"/>
<circle cx="146.0" cy="374.7" r="4.1"/>
<circle cx="135.5" cy="209.4" r="4.1"/>
<circle cx="135.7" cy="362.3" r="4.1"/>
<circle cx="163.0" cy="254.3" r="4.1"/>
<circle cx="148.8" cy="321.3" r="4.1"/>
<circle cx="135.4" cy="340.1" r="4.1"/>
<circle cx="175.7" cy="331.5" r="4.1"/>
<circle cx="140.5" cy="252.6" r="4.1"/>
<circle cx="141.6" cy="372.2" r="4.1"/>
<circle cx="161.1" cy="221.4" r="4.1"/>
<circle cx="138.6" cy="274.3" r="4.1"/>
<circle cx="147.7" cy="333.4" r="4.1"/>
<circle cx="159.5" cy="338.3" r="4.1"/>
<circle cx="187.0" cy="258.8" r="4.1"/>
<circle cx="141.4" cy="263.3" r="4.1"/>
<circle cx="167.9" cy="318.7" r="4.1"/>
<circle cx="145.7" cy="315.9" r="4.1"/>
<circle cx="163.7" cy="292.9" r="4.1"/>
<circle cx="165.8" cy="213.2" r="4.1"/>
<circle cx="142.1" cy="279.5" r="4.1"/>
<circle cx="149.4" cy="225.8" r="4.1"/>
<circle cx="168.6" cy="261.3" r="4.1"/>
<circle cx="144.2" cy="275.3" r="4.1"/>
<circle cx="174.1" cy="288.2" r="4.1"/>
<circle cx="182.1" cy="254.2" r="4.1"/>
<circle cx="150.6" cy="287.9" r="4.1"/>
<circle cx="152.2" cy="246.1" r="4.1"/>
<circle cx="150.1" cy="343.0" r="4.1"/>
<circle cx="166.4" cy="318.0" r="4.1"/>
<circle cx="138.9" cy="219.9" r="4.1"/>
<circle cx="136.6" cy="305.0" r="4.1"/>
<circle cx="160.8" cy="208.4" r="4.1"/>
<circle cx="143.7" cy="272.4" r="4.1"/>
<circle cx="143.8" cy="357.3" r="4.1"/>
<circle cx="147.6" cy="240.6" r="4.1"/>
<circle cx="138.9" cy="256.8" r="4.1"/>
<circle cx="140.3" cy="323.6" r="4.1"/>
<circle cx="140.4" cy="221.7" r="4.1"/>
<circle cx="176.1" cy="289.4" r="4.1"/>
<circle cx="135.8" cy="365.2" r="4.1"/>
<circle cx="140.3" cy="363.3" r="4.1"/>
<circle cx="141.5" cy="334.7" r="4.1"/>
<circle cx="148.2" cy="266.8" r="4.1"/>
<circle cx="139.2" cy="230.2" r="4.1"/>
<circle cx="154.7" cy="357.8" r="4.1"/>
<circle cx="141.7" cy="371.4" r="4.1"/>
<circle cx="144.7" cy="264.5" r="4.1"/>
<circle cx="157.5" cy="302.5" r="4.1"/>
<circle cx="172.2" cy="296.7" r="4.1"/>
<circle cx="141.7" cy="203.1" r="4.1"/>
<circle cx="144.1" cy="236.6" r="4.1"/>
<circle cx="140.1" cy="374.8" r="4.1"/>
<circle cx="158.9" cy="348.6" r="4.1"/>
<circle cx="155.7" cy="270.8" r="4.1"/>
<circle cx="196.8" cy="205.3" r="4.1"/>
<circle cx="175.5" cy="360.9" r="4.1"/>
<circle cx="192.8" cy="283.7" r="4.1"/>
<circle cx="162.8" cy="304.8" r="4.1"/>
<circle cx="139.4" cy="302.9" r="4.1"/>
<circle cx="141.1" cy="327.6" r="4.1"/>
<circle cx="151.0" cy="327.2" r="4.1"/>
<circle cx="159.9" cy="357.0" r="4.1"/>
<circle cx="158.8" cy="276.7" r="4.1"/>
<circle cx="156.9" cy="296.0" r="4.1"/>
<circle cx="156.6" cy="248.4" r="4.1"/>
<circle cx="154.9" cy="261.4" r="4.1"/>
<circle cx="139.2" cy="205.7" r="4.1"/>
<circle cx="152.2" cy="314.9" r="4.1"/>
<circle cx="135.5" cy="218.2" r="4.1"/>
<circle cx="156.1" cy="306.9" r="4.1"/>
<circle cx="212.7" cy="257.7" r="4.1"/>
<circle cx="140.7" cy="232.0" r="4.1"/>
<circle cx="160.4" cy="304.7" r="4.1"/>
<circle cx="151.5" cy="295.9" r="4.1"/>
<circle cx="143.7" cy="263.0" r="4.1"/>
<circle cx="148.8" cy="355.7" r="4.1"/>
<circle cx="137.9" cy="280.7" r="4.1"/>
<circle cx="144.0" cy="358.5" r="4.1"/>
<circle cx="174.1" cy="335.4" r="4.1"/>
<circle cx="190.9" cy="264.4" r="4.1"/>
<circle cx="150.0" cy="202.3" r="4.1"/>
<circle cx="160.2" cy="197.4" r="4.1"/>
<circle cx="148.6" cy="329.0" r="4.1"/>
<circle cx="135.2" cy="349.3" r="4.1"/>
<circle cx="145.8" cy="283.0" r="4.1"/>
<circle cx="166.5" cy="296.8" r="4.1"/>
<circle cx="145.4" cy="307.8" r="4.1"/>
<circle cx="136.8" cy="238.5" r="4.1"/>
<circle cx="179.6" cy="249.0" r="4.1"/>
<circle cx="165.9" cy="275.3" r="4.1"/>
<circle cx="150.9" cy="264.7" r="4.1"/>
<circle cx="158.3" cy="271.8" r="4.1"/>
<circle cx="154.8" cy="254.8" r="4.1"/>
<circle cx="193.2" cy="210.2" r="4.1"/>
<circle cx="179.2" cy="206.8" r="4.1"/>
<circle cx="135.0" cy="201.0" r="4.1"/>
<circle cx="168.3" cy="222.3" r="4.1"/>
<circle cx="137.5" cy="356.7" r="4.1"/>
<circle cx="146.7" cy="295.0" r="4.1"/>
<circle cx="161.1" cy="236.2" r="4.1"/>
<circle cx="161.8" cy="323.0" r="4.1"/>
<circle cx="185.1" cy="267.3" r="4.1"/>
<circle cx="140.5" cy="365.6" r="4.1"/>
<circle cx="163.3" cy="339.1" r="4.1"/>
<circle cx="188.0" cy="304.1" r="4.1"/>
<circle cx="140.3" cy="362.9" r="4.1"/>
<circle cx="163.8" cy="299.8" r="4.1"/>
<circle cx="137.1" cy="334.4" r="4.1"/>
<circle cx="135.2" cy="221.9" r="4.1"/>
<circle cx="173.0" cy="318.6" r="4.1"/>
<circle cx="151.5" cy="307.6" r="4.1"/>
<circle cx="151.2" cy="232.6" r="4.1"/>
<circle cx="146.4" cy="275.7" r="4.1"/>
<circle cx="135.5" cy="366.5" r="4.1"/>
<circle cx="162.2" cy="336.6" r="4.1"/>
<circle cx="141.0" cy="266.6" r="4.1"/>
<circle cx="202.3" cy="339.9" r="4.1"/>
<circle cx="142.2" cy="331.2" r="4.1"/>
<circle cx="157.2" cy="264.5" r="4.1"/>
<circle cx="195.0" cy="287.3" r="4.1"/>
<circle cx="136.1" cy="327.5" r="4.1"/>
<circle cx="171.9" cy="275.8" r="4.1"/>
<circle cx="144.0" cy="262.5" r="4.1"/>
<circle cx="141.7" cy="368.4" r="4.1"/>
<circle cx="169.9" cy="326.6" r="4.1"/>
<circle cx="152.3" cy="320.6" r="4.1"/>
<circle cx="136.4" cy="218.9" r="4.1"/>
<circle cx="139.2" cy="366.3" r="4.1"/>
<circle cx="137.0" cy="313.6" r="4.1"/>
<circle cx="135.3" cy="340.8" r="4.1"/>
<circle cx="151.4" cy="251.6" r="4.1"/>
<circle cx="145.6" cy="230.9" r="4.1"/>
<circle cx="148.9" cy="365.2" r="4.1"/>
<circle cx="152.7" cy="221.6" r="4.1"/>
<circle cx="138.6" cy="251.4" r="4.1"/>
<circle cx="181.6" cy="336.8" r="4.1"/>
<circle cx="141.0" cy="212.3" r="4.1"/>
<circle cx="151.4" cy="323.2" r="4.1"/>
<circle cx="147.2" cy="235.0" r="4.1"/>
<circle cx="136.8" cy="362.0" r="4.1"/>
<circle cx="148.5" cy="294.2" r="4.1"/>
<circle cx="147.7" cy="285.3" r="4.1"/>
<circle cx="135.1" cy="215.7" r="4.1"/>
<circle cx="211.8" cy="226.4" r="4.1"/>
<circle cx="182.1" cy="278.1" r="4.1"/>
<circle cx="139.2" cy="366.2" r="4.1"/>
<circle cx="147.7" cy="298.8" r="4.1"/>
<circle cx="171.4" cy="308.6" r="4.1"/>
<circle cx="149.3" cy="303.3" r="4.1"/>
<circle cx="162.0" cy="310.4" r="4.1"/>
<circle cx="175.6" cy="238.7" r="4.1"/>
<circle cx="166.8" cy="358.3" r="4.1"/>
<circle cx="150.2" cy="229.9" r="4.1"/>
<circle cx="167.4" cy="255.9" r="4.1"/>
<circle cx="165.5" cy="297.9" r="4.1"/>
<circle cx="141.3" cy="304.5" r="4.1"/>
<circle cx="144.9" cy="349.9" r="4.1"/>
<circle cx="180.1" cy="301.1" r="4.1"/>
<circle cx="142.9" cy="366.3" r="4.1"/>
<circle cx="148.5" cy="359.9" r="4.1"/>
<circle cx="140.5" cy="297.2" r="4.1"/>
<circle cx="147.5" cy="228.5" r="4.1"/>
<circle cx="135.9" cy="339.1" r="4.1"/>
<circle cx="187.8" cy="286.2" r="4.1"/>
<circle cx="140.1" cy="201.0" r="4.1"/>
<circle cx="151.0" cy="228.0" r="4.1"/>
<circle cx="151.4" cy="214.8" r="4.1"/>
<circle cx="144.6" cy="255.2" r="4.1"/>
<circle cx="145.3" cy="238.0" r="4.1"/>
<circle cx="162.7" cy="217.1" r="4.1"/>
<circle cx="153.1" cy="252.9" r="4.1"/>
<circle cx="166.3" cy="265.2" r="4.1"/>
<circle cx="148.0" cy="248.5" r="4.1"/>
<circle cx="148.4" cy="265.3" r="4.1"/>
<circle cx="157.2" cy="271.3" r="4.1"/>
<circle cx="146.8" cy="216.1" r="4.1"/>
<circle cx="153.4" cy="250.9" r="4.1"/>
<circle cx="162.7" cy="217.1" r="4.1"/>
<circle cx="178.0" cy="213.5" r="4.1"/>
<circle cx="198.4" cy="267.9" r="4.1"/>
<circle cx="145.5" cy="198.5" r="4.1"/>
<circle cx="151.8" cy="230.9" r="4.1"/>
<circle cx="181.5" cy="224.3" r="4.1"/>
<circle cx="176.6" cy="251.9" r="4.1"/>
<circle cx="154.3" cy="264.6" r="4.1"/>
<circle cx="160.1" cy="215.8" r="4.1"/>
<circle cx="148.3" cy="209.2" r="4.1"/>
<circle cx="177.7" cy="261.8" r="4.1"/>
<circle cx="160.8" cy="269.8" r="4.1"/>
<circle cx="148.1" cy="249.3" r="4.1"/>
<circle cx="161.8" cy="225.9" r="4.1"/>
<circle cx="147.2" cy="248.2" r="4.1"/>
<circle cx="171.2" cy="197.0" r="4.1"/>
<circle cx="163.1" cy="211.7" r="4.1"/>
<circle cx="166.4" cy="201.1" r="4.1"/>
<circle cx="150.7" cy="228.2" r="4.1"/>
<circle cx="195.1" cy="214.8" r="4.1"/>
<circle cx="179.6" cy="198.1" r="4.1"/>
<circle cx="153.7" cy="276.4" r="4.1"/>
<circle cx="159.0" cy="230.3" r="4.1"/>
<circle cx="145.5" cy="263.5" r="4.1"/>
<circle cx="156.7" cy="211.4" r="4.1"/>
<circle cx="148.3" cy="216.0" r="4.1"/>
<circle cx="188.6" cy="251.0" r="4.1"/>
<circle cx="146.1" cy="223.7" r="4.1"/>
<circle cx="146.6" cy="221.4" r="4.1"/>
<circle cx="156.5" cy="201.7" r="4.1"/>
<circle cx="157.9" cy="204.8" r="4.1"/>
<circle cx="158.1" cy="242.0" r="4.1"/>
<circle cx="205.2" cy="220.5" r="4.1"/>
<circle cx="150.4" cy="263.9" r="4.1"/>
<circle cx="192.6" cy="271.1" r="4.1"/>
<circle cx="157.5" cy="218.4" r="4.1"/>
<circle cx="147.2" cy="201.9" r="4.1"/>
<circle cx="161.4" cy="215.6" r="4.1"/>
<circle cx="154.8" cy="235.3" r="4.1"/>
<circle cx="158.7" cy="225.6" r="4.1"/>
<circle cx="151.3" cy="217.0" r="4.1"/>
<circle cx="145.4" cy="230.8" r="4.1"/>
<circle cx="149.1" cy="248.4" r="4.1"/>
<circle cx="155.3" cy="206.7" r="4.1"/>
<circle cx="147.8" cy="247.9" r="4.1"/>
<circle cx="190.8" cy="202.1" r="4.1"/>
<circle cx="155.4" cy="211.1" r="4.1"/>
<circle cx="147.4" cy="208.1" r="4.1"/>
<circle cx="172.9" cy="195.0" r="4.1"/>
<circle cx="148.8" cy="194.7" r="4.1"/>
<circle cx="150.3" cy="236.6" r="4.1"/>
<circle cx="171.5" cy="247.2" r="4.1"/>
<circle cx="190.5" cy="216.7" r="4.1"/>
<circle cx="168.6" cy="196.6" r="4.1"/>
<circle cx="152.3" cy="225.5" r="4.1"/>
<circle cx="147.2" cy="277.3" r="4.1"/>
<circle cx="148.4" cy="276.2" r="4.1"/>
<circle cx="159.1" cy="239.8" r="4.1"/>
<circle cx="153.0" cy="212.1" r="4.1"/>
<circle cx="191.5" cy="203.5" r="4.1"/>
<circle cx="164.8" cy="247.4" r="4.1"/>
<circle cx="149.7" cy="235.2" r="4.1"/>
<circle cx="149.3" cy="235.6" r="4.1"/>
<circle cx="161.3" cy="271.4" r="4.1"/>
<circle cx="148.0" cy="279.4" r="4.1"/>
<circle cx="158.2" cy="234.7" r="4.1"/>
<circle cx="155.6" cy="236.3" r="4.1"/>
<circle cx="162.4" cy="205.6" r="4.1"/>
<circle cx="156.0" cy="263.9" r="4.1"/>
<circle cx="148.1" cy="206.5" r="4.1"/>
<circle cx="166.9" cy="256.3" r="4.1"/>
<circle cx="153.3" cy="233.3" r="4.1"/>
<circle cx="154.2" cy="219.0" r="4.1"/>
<circle cx="168.8" cy="267.1" r="4.1"/>
<circle cx="174.4" cy="198.5" r="4.1"/>
<circle cx="149.0" cy="375.4" r="4.1"/>
<circle cx="160.4" cy="375.4" r="4.1"/>
<circle cx="164.0" cy="375.4" r="4.1"/>
<circle cx="141.7" cy="375.4" r="4.1"/>
<circle cx="168.2" cy="375.4" r="4.1"/>
<circle cx="138.4" cy="375.4" r="4.1"/>
<circle cx="157.5" cy="375.4" r="4.1"/>
<circle cx="143.1" cy="375.4" r="4.1"/>
<circle cx="142.3" cy="375.4" r="4.1"/>
<circle cx="139.7" cy="375.4" r="4.1"/>
<circle cx="151.2" cy="145.3" r="4.1"/>
<circle cx="205.5" cy="143.4" r="4.1"/>
<circle cx="304.3" cy="143.9" r="4.1"/>
<circle cx="131.7" cy="148.1" r="4.1"/>
<circle cx="140.1" cy="150.0" r="4.1"/>
<circle cx="128.1" cy="155.6" r="4.1"/>
<circle cx="206.0" cy="152.8" r="4.1"/>
<circle cx="140.1" cy="157.8" r="4.1"/>
<circle cx="149.0" cy="157.8" r="4.1"/>
<circle cx="146.2" cy="164.8" r="4.1"/>
<circle cx="257.6" cy="165.6" r="4.1"/>
<circle cx="264.0" cy="170.4" r="4.1"/>
<circle cx="163.5" cy="169.0" r="4.1"/>
<circle cx="179.6" cy="170.4" r="4.1"/>
<circle cx="190.2" cy="169.0" r="4.1"/>
<circle cx="196.3" cy="169.0" r="4.1"/>
<circle cx="128.1" cy="173.2" r="4.1"/>
<circle cx="153.2" cy="173.2" r="4.1"/>
<circle cx="221.4" cy="174.5" r="4.1"/>
<circle cx="224.1" cy="178.7" r="4.1"/>
<circle cx="186.6" cy="178.7" r="4.1"/>
<circle cx="193.5" cy="180.1" r="4.1"/>
<circle cx="199.1" cy="180.1" r="4.1"/>
<circle cx="146.2" cy="177.3" r="4.1"/>
<circle cx="220.0" cy="182.9" r="4.1"/>
<circle cx="160.1" cy="182.9" r="4.1"/>
<circle cx="233.9" cy="188.5" r="4.1"/>
<circle cx="240.8" cy="188.5" r="4.1"/>
<circle cx="246.4" cy="187.1" r="4.1"/>
<circle cx="224.1" cy="187.1" r="4.1"/>
<circle cx="242.2" cy="195.4" r="4.1"/>
<circle cx="245.0" cy="196.8" r="4.1"/>
<circle cx="214.4" cy="192.6" r="4.1"/>
<circle cx="287.6" cy="194.0" r="4.1"/>
<circle cx="201.9" cy="196.8" r="4.1"/>
<circle cx="218.6" cy="198.2" r="4.1"/>
<circle cx="267.3" cy="201.8" r="4.1"/>
<circle cx="253.4" cy="204.6" r="4.1"/>
<circle cx="171.2" cy="189.9" r="4.1"/>
<circle cx="165.7" cy="185.7" r="4.1"/>
<circle cx="182.4" cy="189.9" r="4.1"/>
<circle cx="190.7" cy="192.6" r="4.1"/>
<circle cx="226.9" cy="205.2" r="4.1"/>
<circle cx="228.3" cy="212.1" r="4.1"/>
<circle cx="217.2" cy="210.7" r="4.1"/>
<circle cx="204.7" cy="206.6" r="4.1"/>
<circle cx="193.5" cy="204.6" r="4.1"/>
<circle cx="175.4" cy="210.7" r="4.1"/>
<circle cx="185.2" cy="213.5" r="4.1"/>
<circle cx="235.3" cy="224.1" r="4.1"/>
<circle cx="266.7" cy="221.9" r="4.1"/>
<circle cx="250.6" cy="227.4" r="4.1"/>
<circle cx="201.9" cy="219.1" r="4.1"/>
<circle cx="210.2" cy="221.9" r="4.1"/>
<circle cx="193.5" cy="224.7" r="4.1"/>
<circle cx="224.1" cy="230.2" r="4.1"/>
<circle cx="229.7" cy="231.6" r="4.1"/>
<circle cx="260.3" cy="234.4" r="4.1"/>
<circle cx="236.7" cy="235.8" r="4.1"/>
<circle cx="238.1" cy="240.0" r="4.1"/>
<circle cx="222.8" cy="244.1" r="4.1"/>
<circle cx="271.5" cy="244.1" r="4.1"/>
<circle cx="213.0" cy="241.4" r="4.1"/>
<circle cx="204.7" cy="246.9" r="4.1"/>
<circle cx="193.5" cy="241.4" r="4.1"/>
<circle cx="182.4" cy="238.6" r="4.1"/>
<circle cx="282.6" cy="252.5" r="4.1"/>
<circle cx="304.0" cy="251.1" r="4.1"/>
<circle cx="299.3" cy="256.7" r="4.1"/>
<circle cx="265.9" cy="253.9" r="4.1"/>
<circle cx="267.3" cy="256.7" r="4.1"/>
<circle cx="252.0" cy="260.8" r="4.1"/>
<circle cx="277.0" cy="260.8" r="4.1"/>
<circle cx="232.5" cy="256.7" r="4.1"/>
<circle cx="236.7" cy="259.5" r="4.1"/>
<circle cx="206.0" cy="249.7" r="4.1"/>
<circle cx="210.2" cy="258.1" r="4.1"/>
<circle cx="196.3" cy="255.3" r="4.1"/>
<circle cx="185.2" cy="253.9" r="4.1"/>
<circle cx="221.4" cy="256.7" r="4.1"/>
<circle cx="310.4" cy="267.8" r="4.1"/>
<circle cx="312.7" cy="275.3" r="4.1"/>
<circle cx="270.1" cy="270.6" r="4.1"/>
<circle cx="277.0" cy="270.6" r="4.1"/>
<circle cx="279.8" cy="269.2" r="4.1"/>
<circle cx="283.2" cy="268.4" r="4.1"/>
<circle cx="243.6" cy="270.6" r="4.1"/>
<circle cx="252.0" cy="269.2" r="4.1"/>
<circle cx="232.5" cy="274.8" r="4.1"/>
<circle cx="221.4" cy="277.6" r="4.1"/>
<circle cx="236.7" cy="266.4" r="4.1"/>
<circle cx="197.7" cy="273.4" r="4.1"/>
<circle cx="204.7" cy="276.2" r="4.1"/>
<circle cx="236.7" cy="281.7" r="4.1"/>
<circle cx="201.9" cy="284.5" r="4.1"/>
<circle cx="192.1" cy="290.1" r="4.1"/>
<circle cx="203.3" cy="291.5" r="4.1"/>
<circle cx="179.6" cy="288.7" r="4.1"/>
<circle cx="221.4" cy="297.0" r="4.1"/>
<circle cx="252.0" cy="294.3" r="4.1"/>
<circle cx="261.7" cy="298.4" r="4.1"/>
<circle cx="178.2" cy="294.3" r="4.1"/>
<circle cx="174.0" cy="302.6" r="4.1"/>
<circle cx="240.8" cy="304.0" r="4.1"/>
<circle cx="260.3" cy="304.0" r="4.1"/>
<circle cx="267.3" cy="304.8" r="4.1"/>
<circle cx="286.8" cy="304.8" r="4.1"/>
<circle cx="272.9" cy="315.1" r="4.1"/>
<circle cx="284.0" cy="314.3" r="4.1"/>
<circle cx="277.0" cy="322.1" r="4.1"/>
<circle cx="208.8" cy="322.1" r="4.1"/>
<circle cx="196.3" cy="311.0" r="4.1"/>
<circle cx="179.6" cy="313.7" r="4.1"/>
<circle cx="168.5" cy="319.3" r="4.1"/>
<circle cx="342.5" cy="323.5" r="4.1"/>
<circle cx="252.0" cy="329.1" r="4.1"/>
<circle cx="260.3" cy="327.7" r="4.1"/>
<circle cx="194.9" cy="329.1" r="4.1"/>
<circle cx="199.1" cy="329.9" r="4.1"/>
<circle cx="217.2" cy="332.7" r="4.1"/>
<circle cx="208.8" cy="336.0" r="4.1"/>
<circle cx="204.7" cy="334.6" r="4.1"/>
<circle cx="171.2" cy="333.2" r="4.1"/>
<circle cx="179.6" cy="337.4" r="4.1"/>
<circle cx="257.6" cy="341.6" r="4.1"/>
<circle cx="261.7" cy="347.1" r="4.1"/>
<circle cx="257.6" cy="352.7" r="4.1"/>
<circle cx="264.5" cy="348.5" r="4.1"/>
<circle cx="288.2" cy="352.7" r="4.1"/>
<circle cx="304.9" cy="355.5" r="4.1"/>
<circle cx="239.5" cy="356.1" r="4.1"/>
<circle cx="217.2" cy="351.3" r="4.1"/>
<circle cx="208.8" cy="344.4" r="4.1"/>
<circle cx="198.5" cy="343.8" r="4.1"/>
<circle cx="207.4" cy="352.7" r="4.1"/>
<circle cx="182.4" cy="349.9" r="4.1"/>
<circle cx="165.7" cy="349.9" r="4.1"/>
<circle cx="260.3" cy="369.4" r="4.1"/>
<circle cx="292.3" cy="372.2" r="4.1"/>
<circle cx="211.6" cy="369.4" r="4.1"/>
<circle cx="190.7" cy="368.9" r="4.1"/>
<circle cx="179.6" cy="371.6" r="4.1"/>
<circle cx="196.3" cy="361.1" r="4.1"/>
<circle cx="178.2" cy="358.3" r="4.1"/>
<circle cx="157.3" cy="365.2" r="4.1"/>
<circle cx="165.7" cy="366.6" r="4.1"/>
<circle cx="124.2" cy="865.5" r="4.1"/>
<circle cx="124.9" cy="661.2" r="4.1"/>
<circle cx="124.4" cy="858.0" r="4.1"/>
<circle cx="125.0" cy="670.6" r="4.1"/>
<circle cx="125.1" cy="711.6" r="4.1"/>
<circle cx="123.8" cy="682.1" r="4.1"/>
<circle cx="124.7" cy="877.0" r="4.1"/>
<circle cx="124.3" cy="652.3" r="4.1"/>
<circle cx="124.0" cy="845.2" r="4.1"/>
<circle cx="124.4" cy="704.4" r="4.1"/>
<circle cx="124.5" cy="868.0" r="4.1"/>
<circle cx="125.0" cy="817.3" r="4.1"/>
<circle cx="124.0" cy="695.2" r="4.1"/>
<circle cx="125.0" cy="757.0" r="4.1"/>
<circle cx="125.4" cy="669.4" r="4.1"/>
<circle cx="124.8" cy="731.2" r="4.1"/>
<circle cx="124.8" cy="635.6" r="4.1"/>
<circle cx="124.6" cy="800.1" r="4.1"/>
<circle cx="124.1" cy="777.9" r="4.1"/>
<circle cx="124.8" cy="697.2" r="4.1"/>
<circle cx="124.8" cy="632.3" r="4.1"/>
<circle cx="124.9" cy="864.7" r="4.1"/>
<circle cx="125.6" cy="660.4" r="4.1"/>
<circle cx="124.9" cy="711.3" r="4.1"/>
<circle cx="124.8" cy="635.4" r="4.1"/>
<circle cx="125.2" cy="725.2" r="4.1"/>
<circle cx="124.1" cy="729.8" r="4.1"/>
<circle cx="124.1" cy="762.9" r="4.1"/>
<circle cx="124.4" cy="710.2" r="4.1"/>
<circle cx="124.3" cy="691.7" r="4.1"/>
<circle cx="124.9" cy="826.2" r="4.1"/>
<circle cx="124.5" cy="699.0" r="4.1"/>
<circle cx="125.3" cy="712.3" r="4.1"/>
<circle cx="125.2" cy="752.3" r="4.1"/>
<circle cx="124.9" cy="697.7" r="4.1"/>
<circle cx="124.4" cy="811.4" r="4.1"/>
<circle cx="124.8" cy="650.1" r="4.1"/>
<circle cx="124.9" cy="710.1" r="4.1"/>
<circle cx="124.2" cy="734.6" r="4.1"/>
<circle cx="124.7" cy="693.8" r="4.1"/>
<circle cx="124.9" cy="839.8" r="4.1"/>
<circle cx="124.7" cy="717.9" r="4.1"/>
<circle cx="125.2" cy="734.6" r="4.1"/>
<circle cx="125.1" cy="746.7" r="4.1"/>
<circle cx="124.3" cy="837.4" r="4.1"/>
<circle cx="124.6" cy="683.9" r="4.1"/>
<circle cx="124.3" cy="837.0" r="4.1"/>
<circle cx="124.8" cy="867.0" r="4.1"/>
<circle cx="124.3" cy="695.8" r="4.1"/>
<circle cx="125.0" cy="671.5" r="4.1"/>
<circle cx="124.8" cy="827.0" r="4.1"/>
<circle cx="125.0" cy="707.5" r="4.1"/>
<circle cx="124.5" cy="686.1" r="4.1"/>
<circle cx="124.0" cy="648.6" r="4.1"/>
<circle cx="125.3" cy="783.1" r="4.1"/>
<circle cx="124.5" cy="864.2" r="4.1"/>
<circle cx="125.2" cy="850.2" r="4.1"/>
<circle cx="124.8" cy="776.8" r="4.1"/>
<circle cx="124.9" cy="739.1" r="4.1"/>
<circle cx="125.3" cy="874.1" r="4.1"/>
<circle cx="124.7" cy="794.7" r="4.1"/>
<circle cx="125.2" cy="869.0" r="4.1"/>
<circle cx="124.0" cy="801.7" r="4.1"/>
<circle cx="124.9" cy="803.9" r="4.1"/>
<circle cx="124.5" cy="805.0" r="4.1"/>
<circle cx="124.5" cy="660.5" r="4.1"/>
<circle cx="124.6" cy="692.4" r="4.1"/>
<circle cx="124.7" cy="645.5" r="4.1"/>
<circle cx="125.3" cy="863.1" r="4.1"/>
<circle cx="123.9" cy="878.6" r="4.1"/>
<circle cx="124.6" cy="780.9" r="4.1"/>
<circle cx="124.3" cy="668.2" r="4.1"/>
<circle cx="125.1" cy="660.2" r="4.1"/>
<circle cx="124.4" cy="741.0" r="4.1"/>
<circle cx="124.8" cy="727.1" r="4.1"/>
<circle cx="124.4" cy="678.1" r="4.1"/>
<circle cx="124.9" cy="651.4" r="4.1"/>
<circle cx="125.0" cy="791.5" r="4.1"/>
<circle cx="124.4" cy="827.9" r="4.1"/>
<circle cx="124.6" cy="644.8" r="4.1"/>
<circle cx="124.0" cy="706.7" r="4.1"/>
<circle cx="124.7" cy="704.4" r="4.1"/>
<circle cx="124.9" cy="765.1" r="4.1"/>
<circle cx="124.4" cy="780.7" r="4.1"/>
<circle cx="125.0" cy="732.0" r="4.1"/>
<circle cx="123.8" cy="846.4" r="4.1"/>
<circle cx="123.9" cy="727.1" r="4.1"/>
<circle cx="124.0" cy="705.1" r="4.1"/>
<circle cx="124.4" cy="821.4" r="4.1"/>
<circle cx="124.6" cy="840.3" r="4.1"/>
<circle cx="124.6" cy="849.2" r="4.1"/>
<circle cx="124.6" cy="671.5" r="4.1"/>
<circle cx="124.9" cy="678.4" r="4.1"/>
<circle cx="124.4" cy="745.1" r="4.1"/>
<circle cx="124.1" cy="871.9" r="4.1"/>
<circle cx="124.1" cy="784.7" r="4.1"/>
<circle cx="125.4" cy="785.5" r="4.1"/>
<circle cx="123.7" cy="711.0" r="4.1"/>
<circle cx="124.5" cy="877.6" r="4.1"/>
<circle cx="125.2" cy="674.8" r="4.1"/>
<circle cx="124.8" cy="769.4" r="4.1"/>
<circle cx="124.3" cy="798.4" r="4.1"/>
<circle cx="124.6" cy="832.3" r="4.1"/>
<circle cx="124.9" cy="833.2" r="4.1"/>
<circle cx="125.1" cy="726.0" r="4.1"/>
<circle cx="124.2" cy="697.0" r="4.1"/>
<circle cx="124.9" cy="874.9" r="4.1"/>
<circle cx="124.7" cy="767.8" r="4.1"/>
<circle cx="125.0" cy="699.8" r="4.1"/>
<circle cx="125.2" cy="663.7" r="4.1"/>
<circle cx="124.5" cy="830.6" r="4.1"/>
<circle cx="124.0" cy="842.0" r="4.1"/>
<circle cx="124.8" cy="772.0" r="4.1"/>
<circle cx="125.3" cy="725.4" r="4.1"/>
<circle cx="124.9" cy="794.6" r="4.1"/>
<circle cx="124.7" cy="875.0" r="4.1"/>
<circle cx="125.6" cy="774.2" r="4.1"/>
<circle cx="124.2" cy="826.6" r="4.1"/>
<circle cx="125.0" cy="850.4" r="4.1"/>
<circle cx="124.4" cy="819.0" r="4.1"/>
<circle cx="124.6" cy="751.1" r="4.1"/>
<circle cx="124.6" cy="673.8" r="4.1"/>
<circle cx="125.2" cy="803.8" r="4.1"/>
<circle cx="124.2" cy="837.7" r="4.1"/>
<circle cx="124.4" cy="870.7" r="4.1"/>
<circle cx="124.0" cy="667.2" r="4.1"/>
<circle cx="124.8" cy="657.5" r="4.1"/>
<circle cx="124.4" cy="788.7" r="4.1"/>
<circle cx="124.8" cy="836.6" r="4.1"/>
<circle cx="124.2" cy="648.2" r="4.1"/>
<circle cx="124.5" cy="783.1" r="4.1"/>
<circle cx="125.0" cy="695.9" r="4.1"/>
<circle cx="124.5" cy="879.8" r="4.1"/>
<circle cx="124.9" cy="719.7" r="4.1"/>
<circle cx="124.8" cy="649.6" r="4.1"/>
<circle cx="124.5" cy="825.5" r="4.1"/>
<circle cx="124.0" cy="704.5" r="4.1"/>
<circle cx="125.0" cy="734.2" r="4.1"/>
<circle cx="124.7" cy="661.8" r="4.1"/>
<circle cx="125.0" cy="712.1" r="4.1"/>
<circle cx="123.8" cy="662.5" r="4.1"/>
<circle cx="123.9" cy="693.6" r="4.1"/>
<circle cx="123.7" cy="774.3" r="4.1"/>
<circle cx="124.2" cy="704.0" r="4.1"/>
<circle cx="125.0" cy="796.5" r="4.1"/>
<circle cx="124.8" cy="855.2" r="4.1"/>
<circle cx="124.6" cy="773.7" r="4.1"/>
<circle cx="124.7" cy="636.2" r="4.1"/>
<circle cx="124.9" cy="869.9" r="4.1"/>
<circle cx="124.5" cy="678.7" r="4.1"/>
<circle cx="124.8" cy="715.9" r="4.1"/>
<circle cx="124.7" cy="761.2" r="4.1"/>
<circle cx="123.7" cy="784.3" r="4.1"/>
<circle cx="124.4" cy="714.9" r="4.1"/>
<circle cx="125.1" cy="739.6" r="4.1"/>
<circle cx="124.4" cy="786.3" r="4.1"/>
<circle cx="124.5" cy="743.7" r="4.1"/>
<circle cx="124.4" cy="700.1" r="4.1"/>
<circle cx="124.4" cy="732.1" r="4.1"/>
<circle cx="125.0" cy="725.6" r="4.1"/>
<circle cx="124.5" cy="702.3" r="4.1"/>
<circle cx="124.2" cy="779.8" r="4.1"/>
<circle cx="123.4" cy="757.6" r="4.1"/>
<circle cx="124.4" cy="732.3" r="4.1"/>
<circle cx="123.8" cy="807.1" r="4.1"/>
<circle cx="123.9" cy="833.0" r="4.1"/>
<circle cx="124.9" cy="791.9" r="4.1"/>
<circle cx="124.9" cy="714.6" r="4.1"/>
<circle cx="123.8" cy="864.1" r="4.1"/>
<circle cx="124.9" cy="655.2" r="4.1"/>
<circle cx="124.8" cy="831.2" r="4.1"/>
<circle cx="124.3" cy="734.7" r="4.1"/>
<circle cx="124.9" cy="728.6" r="4.1"/>
<circle cx="123.9" cy="840.6" r="4.1"/>
<circle cx="124.1" cy="793.5" r="4.1"/>
<circle cx="124.0" cy="873.4" r="4.1"/>
<circle cx="124.2" cy="849.4" r="4.1"/>
<circle cx="125.0" cy="658.2" r="4.1"/>
<circle cx="124.1" cy="755.3" r="4.1"/>
<circle cx="124.1" cy="821.7" r="4.1"/>
<circle cx="124.2" cy="649.7" r="4.1"/>
<circle cx="124.7" cy="765.2" r="4.1"/>
<circle cx="124.5" cy="878.2" r="4.1"/>
<circle cx="124.9" cy="689.0" r="4.1"/>
<circle cx="124.3" cy="658.3" r="4.1"/>
<circle cx="124.1" cy="701.6" r="4.1"/>
<circle cx="124.4" cy="715.4" r="4.1"/>
<circle cx="124.6" cy="700.7" r="4.1"/>
<circle cx="124.2" cy="737.5" r="4.1"/>
<circle cx="124.7" cy="838.2" r="4.1"/>
<circle cx="125.3" cy="758.9" r="4.1"/>
<circle cx="124.4" cy="776.9" r="4.1"/>
<circle cx="124.6" cy="656.4" r="4.1"/>
<circle cx="125.1" cy="645.3" r="4.1"/>
<circle cx="124.3" cy="867.7" r="4.1"/>
<circle cx="124.3" cy="716.1" r="4.1"/>
<circle cx="124.2" cy="866.8" r="4.1"/>
<circle cx="124.8" cy="713.2" r="4.1"/>
<circle cx="124.8" cy="789.5" r="4.1"/>
<circle cx="124.5" cy="795.0" r="4.1"/>
<circle cx="124.6" cy="651.6" r="4.1"/>
<circle cx="125.1" cy="646.8" r="4.1"/>
<circle cx="124.9" cy="739.9" r="4.1"/>
<circle cx="124.0" cy="660.9" r="4.1"/>
<circle cx="124.6" cy="703.3" r="4.1"/>
<circle cx="124.6" cy="678.2" r="4.1"/>
<circle cx="124.9" cy="707.5" r="4.1"/>
<circle cx="124.5" cy="743.4" r="4.1"/>
<circle cx="124.3" cy="707.1" r="4.1"/>
<circle cx="124.4" cy="713.2" r="4.1"/>
<circle cx="123.9" cy="751.0" r="4.1"/>
<circle cx="124.6" cy="800.4" r="4.1"/>
<circle cx="124.4" cy="639.5" r="4.1"/>
<circle cx="124.8" cy="879.4" r="4.1"/>
<circle cx="124.2" cy="737.1" r="4.1"/>
<circle cx="124.4" cy="860.7" r="4.1"/>
<circle cx="124.2" cy="630.8" r="4.1"/>
<circle cx="124.2" cy="643.4" r="4.1"/>
<circle cx="124.9" cy="653.9" r="4.1"/>
<circle cx="124.4" cy="858.1" r="4.1"/>
<circle cx="124.8" cy="732.4" r="4.1"/>
<circle cx="124.1" cy="841.4" r="4.1"/>
<circle cx="124.6" cy="803.4" r="4.1"/>
<circle cx="123.9" cy="651.0" r="4.1"/>
<circle cx="124.4" cy="719.8" r="4.1"/>
<circle cx="124.4" cy="712.2" r="4.1"/>
<circle cx="124.8" cy="742.7" r="4.1"/>
<circle cx="124.7" cy="818.2" r="4.1"/>
<circle cx="124.5" cy="650.0" r="4.1"/>
<circle cx="124.9" cy="861.5" r="4.1"/>
<circle cx="124.7" cy="748.6" r="4.1"/>
<circle cx="124.8" cy="720.8" r="4.1"/>
<circle cx="124.9" cy="804.1" r="4.1"/>
<circle cx="124.6" cy="698.4" r="4.1"/>
<circle cx="124.5" cy="807.8" r="4.1"/>
<circle cx="124.7" cy="733.4" r="4.1"/>
<circle cx="124.4" cy="749.0" r="4.1"/>
<circle cx="124.7" cy="676.5" r="4.1"/>
<circle cx="125.0" cy="680.0" r="4.1"/>
<circle cx="124.9" cy="845.2" r="4.1"/>
<circle cx="124.4" cy="773.7" r="4.1"/>
<circle cx="124.1" cy="735.0" r="4.1"/>
<circle cx="124.6" cy="823.5" r="4.1"/>
<circle cx="124.5" cy="857.9" r="4.1"/>
<circle cx="125.0" cy="668.9" r="4.1"/>
<circle cx="124.4" cy="879.5" r="4.1"/>
<circle cx="124.5" cy="632.5" r="4.1"/>
<circle cx="124.9" cy="783.1" r="4.1"/>
<circle cx="124.4" cy="695.2" r="4.1"/>
<circle cx="124.5" cy="692.3" r="4.1"/>
<circle cx="125.3" cy="753.2" r="4.1"/>
<circle cx="125.2" cy="780.7" r="4.1"/>
<circle cx="124.8" cy="738.7" r="4.1"/>
<circle cx="124.7" cy="808.2" r="4.1"/>
<circle cx="124.2" cy="867.5" r="4.1"/>
<circle cx="124.8" cy="671.4" r="4.1"/>
<circle cx="124.6" cy="688.6" r="4.1"/>
<circle cx="124.7" cy="782.0" r="4.1"/>
<circle cx="124.4" cy="732.0" r="4.1"/>
<circle cx="124.6" cy="708.2" r="4.1"/>
<circle cx="124.5" cy="755.6" r="4.1"/>
<circle cx="124.7" cy="803.9" r="4.1"/>
<circle cx="125.2" cy="857.1" r="4.1"/>
<circle cx="124.7" cy="865.2" r="4.1"/>
<circle cx="123.9" cy="834.7" r="4.1"/>
<circle cx="124.2" cy="716.0" r="4.1"/>
<circle cx="123.9" cy="850.9" r="4.1"/>
<circle cx="124.3" cy="807.2" r="4.1"/>
<circle cx="124.8" cy="672.8" r="4.1"/>
<circle cx="124.7" cy="868.3" r="4.1"/>
<circle cx="124.3" cy="691.1" r="4.1"/>
<circle cx="124.7" cy="800.2" r="4.1"/>
<circle cx="124.3" cy="803.3" r="4.1"/>
<circle cx="124.0" cy="856.9" r="4.1"/>
<circle cx="124.0" cy="796.3" r="4.1"/>
<circle cx="124.2" cy="875.8" r="4.1"/>
<circle cx="125.1" cy="644.0" r="4.1"/>
<circle cx="124.0" cy="638.4" r="4.1"/>
<circle cx="125.1" cy="678.1" r="4.1"/>
<circle cx="125.1" cy="773.4" r="4.1"/>
<circle cx="124.5" cy="735.4" r="4.1"/>
<circle cx="124.6" cy="649.7" r="4.1"/>
<circle cx="124.3" cy="679.7" r="4.1"/>
<circle cx="124.6" cy="774.4" r="4.1"/>
<circle cx="124.8" cy="730.0" r="4.1"/>
<circle cx="124.6" cy="820.6" r="4.1"/>
<circle cx="125.0" cy="746.2" r="4.1"/>
<circle cx="125.1" cy="849.3" r="4.1"/>
<circle cx="124.7" cy="819.4" r="4.1"/>
<circle cx="124.7" cy="753.1" r="4.1"/>
<circle cx="124.6" cy="718.9" r="4.1"/>
<circle cx="124.7" cy="682.7" r="4.1"/>
<circle cx="124.1" cy="702.3" r="4.1"/>
<circle cx="124.7" cy="718.1" r="4.1"/>
<circle cx="124.7" cy="719.7" r="4.1"/>
<circle cx="124.2" cy="673.9" r="4.1"/>
<circle cx="125.4" cy="747.8" r="4.1"/>
<circle cx="124.2" cy="657.1" r="4.1"/>
<circle cx="124.2" cy="847.0" r="4.1"/>
<circle cx="124.7" cy="767.1" r="4.1"/>
<circle cx="123.8" cy="652.9" r="4.1"/>
<circle cx="124.3" cy="711.3" r="4.1"/>
<circle cx="124.0" cy="693.1" r="4.1"/>
<circle cx="124.2" cy="668.2" r="4.1"/>
<circle cx="124.5" cy="749.6" r="4.1"/>
<circle cx="124.7" cy="675.0" r="4.1"/>
<circle cx="125.0" cy="667.1" r="4.1"/>
<circle cx="124.9" cy="805.3" r="4.1"/>
<circle cx="125.1" cy="736.8" r="4.1"/>
<circle cx="124.8" cy="797.7" r="4.1"/>
<circle cx="124.4" cy="747.0" r="4.1"/>
<circle cx="125.0" cy="755.5" r="4.1"/>
<circle cx="124.4" cy="707.0" r="4.1"/>
<circle cx="124.3" cy="736.0" r="4.1"/>
<circle cx="125.2" cy="749.7" r="4.1"/>
<circle cx="124.9" cy="714.9" r="4.1"/>
<circle cx="124.7" cy="836.4" r="4.1"/>
<circle cx="124.9" cy="690.8" r="4.1"/>
<circle cx="124.9" cy="684.4" r="4.1"/>
<circle cx="124.0" cy="715.4" r="4.1"/>
<circle cx="124.5" cy="826.1" r="4.1"/>
<circle cx="124.1" cy="841.7" r="4.1"/>
<circle cx="124.6" cy="770.8" r="4.1"/>
<circle cx="124.3" cy="719.5" r="4.1"/>
<circle cx="125.1" cy="791.9" r="4.1"/>
<circle cx="124.8" cy="836.4" r="4.1"/>
<circle cx="124.3" cy="690.0" r="4.1"/>
<circle cx="124.6" cy="796.6" r="4.1"/>
<circle cx="124.1" cy="807.2" r="4.1"/>
<circle cx="124.6" cy="727.0" r="4.1"/>
<circle cx="124.8" cy="665.3" r="4.1"/>
<circle cx="124.7" cy="781.5" r="4.1"/>
<circle cx="123.8" cy="681.8" r="4.1"/>
<circle cx="124.4" cy="721.4" r="4.1"/>
<circle cx="124.8" cy="765.7" r="4.1"/>
<circle cx="124.7" cy="870.6" r="4.1"/>
<circle cx="125.0" cy="665.8" r="4.1"/>
<circle cx="124.1" cy="647.5" r="4.1"/>
<circle cx="124.8" cy="764.3" r="4.1"/>
<circle cx="124.3" cy="865.7" r="4.1"/>
<circle cx="124.7" cy="640.6" r="4.1"/>
<circle cx="124.7" cy="790.2" r="4.1"/>
<circle cx="124.9" cy="635.8" r="4.1"/>
<circle cx="124.3" cy="767.3" r="4.1"/>
<circle cx="124.7" cy="658.9" r="4.1"/>
<circle cx="124.1" cy="794.4" r="4.1"/>
<circle cx="124.0" cy="719.6" r="4.1"/>
<circle cx="124.8" cy="793.3" r="4.1"/>
<circle cx="124.6" cy="693.8" r="4.1"/>
<circle cx="123.9" cy="647.8" r="4.1"/>
<circle cx="124.2" cy="674.7" r="4.1"/>
<circle cx="124.6" cy="697.8" r="4.1"/>
<circle cx="125.2" cy="670.4" r="4.1"/>
<circle cx="125.0" cy="678.8" r="4.1"/>
<circle cx="124.9" cy="765.6" r="4.1"/>
<circle cx="123.9" cy="738.8" r="4.1"/>
<circle cx="124.5" cy="836.2" r="4.1"/>
<circle cx="124.8" cy="753.9" r="4.1"/>
<circle cx="124.7" cy="764.4" r="4.1"/>
<circle cx="124.7" cy="807.2" r="4.1"/>
<circle cx="124.5" cy="843.2" r="4.1"/>
<circle cx="125.3" cy="775.8" r="4.1"/>
<circle cx="125.2" cy="638.2" r="4.1"/>
<circle cx="124.5" cy="744.3" r="4.1"/>
<circle cx="124.2" cy="637.1" r="4.1"/>
<circle cx="125.4" cy="780.8" r="4.1"/>
<circle cx="124.4" cy="645.3" r="4.1"/>
<circle cx="125.1" cy="764.4" r="4.1"/>
<circle cx="125.3" cy="666.6" r="4.1"/>
<circle cx="124.2" cy="843.7" r="4.1"/>
<circle cx="124.7" cy="652.7" r="4.1"/>
<circle cx="124.4" cy="794.5" r="4.1"/>
<circle cx="124.8" cy="805.7" r="4.1"/>
<circle cx="124.7" cy="698.1" r="4.1"/>
<circle cx="125.4" cy="777.8" r="4.1"/>
<circle cx="124.8" cy="711.8" r="4.1"/>
<circle cx="124.6" cy="694.0" r="4.1"/>
<circle cx="125.0" cy="694.2" r="4.1"/>
<circle cx="124.5" cy="633.0" r="4.1"/>
<circle cx="124.4" cy="797.9" r="4.1"/>
<circle cx="125.5" cy="647.0" r="4.1"/>
<circle cx="124.2" cy="678.4" r="4.1"/>
<circle cx="124.4" cy="650.8" r="4.1"/>
<circle cx="124.6" cy="830.9" r="4.1"/>
<circle cx="124.2" cy="761.9" r="4.1"/>
<circle cx="123.7" cy="746.3" r="4.1"/>
<circle cx="125.0" cy="775.4" r="4.1"/>
<circle cx="124.3" cy="831.9" r="4.1"/>
<circle cx="124.4" cy="785.6" r="4.1"/>
<circle cx="124.4" cy="757.8" r="4.1"/>
<circle cx="124.2" cy="707.6" r="4.1"/>
<circle cx="124.1" cy="758.7" r="4.1"/>
<circle cx="124.6" cy="876.8" r="4.1"/>
<circle cx="125.5" cy="772.0" r="4.1"/>
<circle cx="124.9" cy="748.8" r="4.1"/>
<circle cx="124.9" cy="852.0" r="4.1"/>
<circle cx="124.0" cy="642.7" r="4.1"/>
<circle cx="124.6" cy="644.9" r="4.1"/>
<circle cx="124.1" cy="827.1" r="4.1"/>
<circle cx="124.9" cy="865.5" r="4.1"/>
<circle cx="124.5" cy="641.8" r="4.1"/>
<circle cx="124.6" cy="635.0" r="4.1"/>
<circle cx="124.5" cy="631.4" r="4.1"/>
<circle cx="124.3" cy="773.8" r="4.1"/>
<circle cx="124.0" cy="663.6" r="4.1"/>
<circle cx="124.8" cy="769.9" r="4.1"/>
<circle cx="124.0" cy="795.6" r="4.1"/>
<circle cx="124.1" cy="632.9" r="4.1"/>
<circle cx="124.5" cy="847.4" r="4.1"/>
<circle cx="124.3" cy="692.4" r="4.1"/>
<circle cx="124.7" cy="768.0" r="4.1"/>
<circle cx="125.0" cy="717.8" r="4.1"/>
<circle cx="124.7" cy="715.2" r="4.1"/>
<circle cx="124.7" cy="730.2" r="4.1"/>
<circle cx="124.6" cy="629.9" r="4.1"/>
<circle cx="124.9" cy="736.6" r="4.1"/>
<circle cx="123.8" cy="695.5" r="4.1"/>
<circle cx="124.7" cy="718.7" r="4.1"/>
<circle cx="124.2" cy="669.9" r="4.1"/>
<circle cx="124.1" cy="713.1" r="4.1"/>
<circle cx="124.6" cy="804.6" r="4.1"/>
<circle cx="124.4" cy="875.9" r="4.1"/>
<circle cx="124.8" cy="678.5" r="4.1"/>
<circle cx="125.0" cy="846.5" r="4.1"/>
<circle cx="123.6" cy="783.3" r="4.1"/>
<circle cx="124.5" cy="654.4" r="4.1"/>
<circle cx="125.4" cy="632.7" r="4.1"/>
<circle cx="124.9" cy="850.9" r="4.1"/>
<circle cx="125.2" cy="687.7" r="4.1"/>
<circle cx="124.6" cy="655.7" r="4.1"/>
<circle cx="124.0" cy="793.5" r="4.1"/>
<circle cx="124.1" cy="806.4" r="4.1"/>
<circle cx="124.9" cy="853.7" r="4.1"/>
<circle cx="125.0" cy="754.6" r="4.1"/>
<circle cx="124.3" cy="707.3" r="4.1"/>
<circle cx="124.5" cy="708.9" r="4.1"/>
<circle cx="124.7" cy="680.4" r="4.1"/>
<circle cx="123.9" cy="788.4" r="4.1"/>
<circle cx="124.4" cy="865.5" r="4.1"/>
<circle cx="125.2" cy="650.3" r="4.1"/>
<circle cx="125.5" cy="726.0" r="4.1"/>
<circle cx="124.5" cy="717.3" r="4.1"/>
<circle cx="125.3" cy="649.1" r="4.1"/>
<circle cx="124.4" cy="778.3" r="4.1"/>
<circle cx="124.3" cy="875.7" r="4.1"/>
<circle cx="123.7" cy="698.4" r="4.1"/>
<circle cx="125.0" cy="811.5" r="4.1"/>
<circle cx="124.4" cy="855.0" r="4.1"/>
<circle cx="125.5" cy="696.9" r="4.1"/>
<circle cx="124.7" cy="859.7" r="4.1"/>
<circle cx="124.7" cy="816.8" r="4.1"/>
<circle cx="123.9" cy="791.1" r="4.1"/>
<circle cx="125.2" cy="677.7" r="4.1"/>
<circle cx="124.4" cy="698.6" r="4.1"/>
<circle cx="124.5" cy="654.5" r="4.1"/>
<circle cx="123.7" cy="853.8" r="4.1"/>
<circle cx="124.9" cy="832.0" r="4.1"/>
<circle cx="125.0" cy="650.7" r="4.1"/>
<circle cx="124.3" cy="762.3" r="4.1"/>
<circle cx="124.6" cy="682.5" r="4.1"/>
<circle cx="124.7" cy="821.2" r="4.1"/>
<circle cx="125.0" cy="772.9" r="4.1"/>
<circle cx="124.6" cy="866.3" r="4.1"/>
<circle cx="125.3" cy="811.5" r="4.1"/>
<circle cx="124.5" cy="654.3" r="4.1"/>
<circle cx="124.3" cy="722.6" r="4.1"/>
<circle cx="124.4" cy="773.6" r="4.1"/>
<circle cx="123.6" cy="857.9" r="4.1"/>
<circle cx="124.3" cy="722.1" r="4.1"/>
<circle cx="125.0" cy="676.2" r="4.1"/>
<circle cx="124.7" cy="700.1" r="4.1"/>
<circle cx="124.3" cy="691.3" r="4.1"/>
<circle cx="124.7" cy="667.8" r="4.1"/>
<circle cx="123.8" cy="715.3" r="4.1"/>
<circle cx="124.5" cy="691.5" r="4.1"/>
<circle cx="124.8" cy="757.1" r="4.1"/>
<circle cx="124.9" cy="853.5" r="4.1"/>
<circle cx="124.3" cy="868.5" r="4.1"/>
<circle cx="124.9" cy="669.0" r="4.1"/>
<circle cx="125.3" cy="771.9" r="4.1"/>
<circle cx="124.4" cy="798.1" r="4.1"/>
<circle cx="124.9" cy="667.3" r="4.1"/>
<circle cx="124.0" cy="762.5" r="4.1"/>
<circle cx="123.8" cy="679.2" r="4.1"/>
<circle cx="124.8" cy="720.4" r="4.1"/>
<circle cx="124.6" cy="710.3" r="4.1"/>
<circle cx="124.7" cy="833.6" r="4.1"/>
<circle cx="124.3" cy="687.8" r="4.1"/>
<circle cx="124.5" cy="764.6" r="4.1"/>
<circle cx="124.9" cy="776.0" r="4.1"/>
<circle cx="125.3" cy="711.8" r="4.1"/>
<circle cx="124.5" cy="862.3" r="4.1"/>
<circle cx="123.9" cy="712.4" r="4.1"/>
<circle cx="125.1" cy="710.9" r="4.1"/>
<circle cx="124.8" cy="802.8" r="4.1"/>
<circle cx="124.9" cy="751.4" r="4.1"/>
<circle cx="124.7" cy="810.9" r="4.1"/>
<circle cx="125.5" cy="667.4" r="4.1"/>
<circle cx="124.6" cy="666.2" r="4.1"/>
<circle cx="124.8" cy="813.7" r="4.1"/>
<circle cx="123.8" cy="726.5" r="4.1"/>
<circle cx="124.3" cy="844.1" r="4.1"/>
<circle cx="124.3" cy="687.6" r="4.1"/>
<circle cx="124.6" cy="689.3" r="4.1"/>
<circle cx="124.7" cy="845.7" r="4.1"/>
<circle cx="124.3" cy="719.8" r="4.1"/>
<circle cx="125.3" cy="656.6" r="4.1"/>
<circle cx="124.2" cy="684.3" r="4.1"/>
<circle cx="124.4" cy="822.2" r="4.1"/>
<circle cx="124.7" cy="695.6" r="4.1"/>
<circle cx="124.1" cy="768.5" r="4.1"/>
<circle cx="124.8" cy="838.5" r="4.1"/>
<circle cx="124.8" cy="782.2" r="4.1"/>
<circle cx="124.5" cy="817.9" r="4.1"/>
<circle cx="125.3" cy="874.2" r="4.1"/>
<circle cx="124.6" cy="704.1" r="4.1"/>
<circle cx="124.7" cy="848.9" r="4.1"/>
<circle cx="124.2" cy="767.3" r="4.1"/>
<circle cx="123.9" cy="679.6" r="4.1"/>
<circle cx="124.3" cy="662.1" r="4.1"/>
<circle cx="124.5" cy="711.3" r="4.1"/>
<circle cx="124.4" cy="663.6" r="4.1"/>
<circle cx="124.9" cy="822.7" r="4.1"/>
<circle cx="123.6" cy="768.9" r="4.1"/>
<circle cx="124.1" cy="640.1" r="4.1"/>
<circle cx="123.8" cy="849.5" r="4.1"/>
<circle cx="125.1" cy="778.6" r="4.1"/>
<circle cx="124.4" cy="740.2" r="4.1"/>
<circle cx="124.4" cy="664.4" r="4.1"/>
<circle cx="124.1" cy="746.9" r="4.1"/>
<circle cx="124.9" cy="859.2" r="4.1"/>
<circle cx="124.4" cy="775.7" r="4.1"/>
<circle cx="124.7" cy="744.3" r="4.1"/>
<circle cx="123.8" cy="781.6" r="4.1"/>
<circle cx="125.0" cy="767.2" r="4.1"/>
<circle cx="124.7" cy="785.5" r="4.1"/>
<circle cx="124.8" cy="678.9" r="4.1"/>
<circle cx="125.1" cy="666.3" r="4.1"/>
<circle cx="124.5" cy="632.1" r="4.1"/>
<circle cx="124.5" cy="837.8" r="4.1"/>
<circle cx="124.9" cy="629.8" r="4.1"/>
<circle cx="124.8" cy="693.3" r="4.1"/>
<circle cx="124.5" cy="775.9" r="4.1"/>
<circle cx="124.6" cy="754.4" r="4.1"/>
<circle cx="124.4" cy="855.3" r="4.1"/>
<circle cx="124.9" cy="682.5" r="4.1"/>
<circle cx="125.0" cy="657.6" r="4.1"/>
<circle cx="124.6" cy="669.3" r="4.1"/>
<circle cx="125.3" cy="754.0" r="4.1"/>
<circle cx="124.0" cy="702.1" r="4.1"/>
<circle cx="124.5" cy="743.3" r="4.1"/>
<circle cx="125.3" cy="801.7" r="4.1"/>
<circle cx="124.4" cy="709.7" r="4.1"/>
<circle cx="123.9" cy="796.0" r="4.1"/>
<circle cx="125.1" cy="633.9" r="4.1"/>
<circle cx="124.8" cy="766.1" r="4.1"/>
<circle cx="124.1" cy="856.7" r="4.1"/>
<circle cx="124.9" cy="863.5" r="4.1"/>
<circle cx="124.2" cy="772.5" r="4.1"/>
<circle cx="124.0" cy="875.8" r="4.1"/>
<circle cx="124.5" cy="688.1" r="4.1"/>
<circle cx="124.4" cy="703.7" r="4.1"/>
<circle cx="124.1" cy="741.5" r="4.1"/>
<circle cx="124.4" cy="756.7" r="4.1"/>
<circle cx="124.2" cy="834.7" r="4.1"/>
<circle cx="124.6" cy="741.3" r="4.1"/>
<circle cx="124.6" cy="641.1" r="4.1"/>
<circle cx="124.9" cy="804.7" r="4.1"/>
<circle cx="124.4" cy="684.9" r="4.1"/>
<circle cx="124.0" cy="850.5" r="4.1"/>
<circle cx="124.1" cy="682.2" r="4.1"/>
<circle cx="124.5" cy="703.2" r="4.1"/>
<circle cx="125.2" cy="663.4" r="4.1"/>
<circle cx="124.9" cy="704.9" r="4.1"/>
<circle cx="124.3" cy="779.8" r="4.1"/>
<circle cx="125.0" cy="696.1" r="4.1"/>
<circle cx="124.1" cy="641.2" r="4.1"/>
<circle cx="125.0" cy="776.2" r="4.1"/>
<circle cx="124.4" cy="813.5" r="4.1"/>
<circle cx="124.9" cy="656.3" r="4.1"/>
<circle cx="124.8" cy="735.5" r="4.1"/>
<circle cx="124.5" cy="646.1" r="4.1"/>
<circle cx="124.7" cy="633.2" r="4.1"/>
<circle cx="124.2" cy="723.0" r="4.1"/>
<circle cx="124.6" cy="700.9" r="4.1"/>
<circle cx="125.0" cy="848.7" r="4.1"/>
<circle cx="126.2" cy="632.4" r="4.1"/>
<circle cx="124.9" cy="791.3" r="4.1"/>
<circle cx="124.6" cy="813.1" r="4.1"/>
<circle cx="124.2" cy="733.7" r="4.1"/>
<circle cx="125.0" cy="754.7" r="4.1"/>
<circle cx="123.9" cy="691.0" r="4.1"/>
<circle cx="124.3" cy="692.3" r="4.1"/>
<circle cx="124.7" cy="642.3" r="4.1"/>
<circle cx="124.1" cy="856.3" r="4.1"/>
<circle cx="125.2" cy="636.2" r="4.1"/>
<circle cx="125.0" cy="663.4" r="4.1"/>
<circle cx="124.4" cy="810.8" r="4.1"/>
<circle cx="124.4" cy="743.9" r="4.1"/>
<circle cx="124.1" cy="757.5" r="4.1"/>
<circle cx="124.0" cy="702.9" r="4.1"/>
<circle cx="124.8" cy="669.4" r="4.1"/>
<circle cx="124.8" cy="829.6" r="4.1"/>
<circle cx="124.7" cy="660.1" r="4.1"/>
<circle cx="124.7" cy="703.3" r="4.1"/>
<circle cx="124.4" cy="817.7" r="4.1"/>
<circle cx="124.7" cy="703.8" r="4.1"/>
<circle cx="124.0" cy="867.8" r="4.1"/>
<circle cx="124.6" cy="673.0" r="4.1"/>
<circle cx="125.2" cy="761.4" r="4.1"/>
<circle cx="125.1" cy="764.0" r="4.1"/>
<circle cx="124.4" cy="754.6" r="4.1"/>
<circle cx="124.4" cy="823.4" r="4.1"/>
<circle cx="125.1" cy="640.6" r="4.1"/>
<circle cx="125.3" cy="766.0" r="4.1"/>
<circle cx="124.0" cy="827.2" r="4.1"/>
<circle cx="124.4" cy="641.7" r="4.1"/>
<circle cx="124.7" cy="766.1" r="4.1"/>
<circle cx="125.1" cy="739.6" r="4.1"/>
<circle cx="124.2" cy="730.6" r="4.1"/>
<circle cx="124.8" cy="764.0" r="4.1"/>
<circle cx="124.5" cy="785.8" r="4.1"/>
<circle cx="125.5" cy="805.6" r="4.1"/>
<circle cx="124.8" cy="854.5" r="4.1"/>
<circle cx="124.5" cy="793.8" r="4.1"/>
<circle cx="124.4" cy="879.7" r="4.1"/>
<circle cx="125.0" cy="795.9" r="4.1"/>
<circle cx="124.9" cy="696.6" r="4.1"/>
<circle cx="124.1" cy="665.9" r="4.1"/>
<circle cx="124.7" cy="646.8" r="4.1"/>
<circle cx="124.0" cy="696.3" r="4.1"/>
<circle cx="124.3" cy="658.9" r="4.1"/>
<circle cx="124.1" cy="800.5" r="4.1"/>
<circle cx="124.0" cy="802.1" r="4.1"/>
<circle cx="124.3" cy="782.6" r="4.1"/>
<circle cx="124.2" cy="725.1" r="4.1"/>
<circle cx="124.8" cy="745.4" r="4.1"/>
<circle cx="124.9" cy="694.1" r="4.1"/>
<circle cx="124.5" cy="859.6" r="4.1"/>
<circle cx="124.1" cy="633.0" r="4.1"/>
<circle cx="124.9" cy="709.5" r="4.1"/>
<circle cx="123.8" cy="772.8" r="4.1"/>
<circle cx="123.8" cy="674.3" r="4.1"/>
<circle cx="124.9" cy="843.4" r="4.1"/>
<circle cx="124.8" cy="749.6" r="4.1"/>
<circle cx="125.0" cy="722.0" r="4.1"/>
<circle cx="124.5" cy="644.8" r="4.1"/>
<circle cx="124.1" cy="699.6" r="4.1"/>
<circle cx="124.4" cy="777.0" r="4.1"/>
<circle cx="124.8" cy="699.6" r="4.1"/>
<circle cx="124.6" cy="876.2" r="4.1"/>
<circle cx="124.6" cy="875.9" r="4.1"/>
<circle cx="124.6" cy="876.4" r="4.1"/>
<circle cx="124.6" cy="884.6" r="4.1"/>
<circle cx="139.8" cy="661.0" r="4.1"/>
<circle cx="146.1" cy="663.5" r="4.1"/>
<circle cx="147.7" cy="653.3" r="4.1"/>
<circle cx="149.4" cy="643.7" r="4.1"/>
<circle cx="147.5" cy="667.9" r="4.1"/>
<circle cx="132.9" cy="643.6" r="4.1"/>
<circle cx="127.5" cy="653.8" r="4.1"/>
<circle cx="136.4" cy="640.6" r="4.1"/>
<circle cx="151.3" cy="656.0" r="4.1"/>
<circle cx="155.7" cy="666.1" r="4.1"/>
<circle cx="128.1" cy="638.5" r="4.1"/>
<circle cx="146.8" cy="635.9" r="4.1"/>
<circle cx="130.1" cy="635.9" r="4.1"/>
<circle cx="143.0" cy="639.2" r="4.1"/>
<circle cx="125.1" cy="647.7" r="4.1"/>
<circle cx="160.2" cy="643.3" r="4.1"/>
<circle cx="138.8" cy="639.1" r="4.1"/>
<circle cx="124.8" cy="653.0" r="4.1"/>
<circle cx="148.9" cy="641.3" r="4.1"/>
<circle cx="131.7" cy="649.4" r="4.1"/>
<circle cx="144.6" cy="660.8" r="4.1"/>
<circle cx="136.7" cy="667.0" r="4.1"/>
<circle cx="163.5" cy="636.7" r="4.1"/>
<circle cx="149.1" cy="661.8" r="4.1"/>
<circle cx="150.9" cy="660.0" r="4.1"/>
<circle cx="146.5" cy="638.3" r="4.1"/>
<circle cx="128.5" cy="642.1" r="4.1"/>
<circle cx="138.0" cy="641.4" r="4.1"/>
<circle cx="131.5" cy="668.6" r="4.1"/>
<circle cx="170.9" cy="646.8" r="4.1"/>
<circle cx="131.3" cy="656.3" r="4.1"/>
<circle cx="152.5" cy="661.9" r="4.1"/>
<circle cx="130.6" cy="671.0" r="4.1"/>
<circle cx="172.9" cy="653.4" r="4.1"/>
<circle cx="131.9" cy="636.8" r="4.1"/>
<circle cx="133.7" cy="662.0" r="4.1"/>
<circle cx="128.1" cy="641.1" r="4.1"/>
<circle cx="136.5" cy="666.0" r="4.1"/>
<circle cx="138.3" cy="631.7" r="4.1"/>
<circle cx="131.5" cy="656.8" r="4.1"/>
<circle cx="127.1" cy="650.1" r="4.1"/>
<circle cx="158.5" cy="650.1" r="4.1"/>
<circle cx="125.3" cy="642.3" r="4.1"/>
<circle cx="147.4" cy="647.9" r="4.1"/>
<circle cx="129.3" cy="648.8" r="4.1"/>
<circle cx="151.3" cy="656.1" r="4.1"/>
<circle cx="135.7" cy="671.7" r="4.1"/>
<circle cx="132.6" cy="672.4" r="4.1"/>
<circle cx="133.3" cy="662.0" r="4.1"/>
<circle cx="127.8" cy="660.3" r="4.1"/>
<circle cx="134.9" cy="651.5" r="4.1"/>
<circle cx="147.7" cy="648.7" r="4.1"/>
<circle cx="127.6" cy="631.4" r="4.1"/>
<circle cx="180.1" cy="645.3" r="4.1"/>
<circle cx="146.4" cy="635.1" r="4.1"/>
<circle cx="129.0" cy="653.7" r="4.1"/>
<circle cx="139.1" cy="643.6" r="4.1"/>
<circle cx="140.6" cy="642.3" r="4.1"/>
<circle cx="141.5" cy="648.0" r="4.1"/>
<circle cx="128.0" cy="654.0" r="4.1"/>
<circle cx="127.0" cy="664.1" r="4.1"/>
<circle cx="136.2" cy="650.5" r="4.1"/>
<circle cx="131.2" cy="662.7" r="4.1"/>
<circle cx="132.0" cy="666.9" r="4.1"/>
<circle cx="133.5" cy="667.0" r="4.1"/>
<circle cx="132.9" cy="636.9" r="4.1"/>
<circle cx="129.4" cy="653.8" r="4.1"/>
<circle cx="125.1" cy="656.8" r="4.1"/>
<circle cx="149.3" cy="663.8" r="4.1"/>
<circle cx="127.2" cy="654.3" r="4.1"/>
<circle cx="125.8" cy="670.6" r="4.1"/>
<circle cx="137.7" cy="643.1" r="4.1"/>
<circle cx="144.8" cy="633.0" r="4.1"/>
<circle cx="137.3" cy="638.2" r="4.1"/>
<circle cx="126.1" cy="637.2" r="4.1"/>
<circle cx="136.9" cy="669.2" r="4.1"/>
<circle cx="140.8" cy="647.2" r="4.1"/>
<circle cx="163.7" cy="658.3" r="4.1"/>
<circle cx="126.3" cy="653.2" r="4.1"/>
<circle cx="145.4" cy="652.8" r="4.1"/>
<circle cx="158.6" cy="643.4" r="4.1"/>
<circle cx="140.6" cy="663.8" r="4.1"/>
<circle cx="154.4" cy="637.3" r="4.1"/>
<circle cx="124.7" cy="652.4" r="4.1"/>
<circle cx="136.0" cy="665.7" r="4.1"/>
<circle cx="125.8" cy="643.8" r="4.1"/>
<circle cx="129.8" cy="651.1" r="4.1"/>
<circle cx="136.3" cy="665.9" r="4.1"/>
<circle cx="132.5" cy="661.6" r="4.1"/>
<circle cx="134.7" cy="630.5" r="4.1"/>
<circle cx="133.0" cy="644.5" r="4.1"/>
<circle cx="155.1" cy="649.8" r="4.1"/>
<circle cx="129.9" cy="655.2" r="4.1"/>
<circle cx="132.7" cy="658.6" r="4.1"/>
<circle cx="129.3" cy="665.1" r="4.1"/>
<circle cx="132.8" cy="641.9" r="4.1"/>
<circle cx="132.2" cy="641.0" r="4.1"/>
<circle cx="139.6" cy="655.2" r="4.1"/>
<circle cx="129.3" cy="639.7" r="4.1"/>
<circle cx="130.1" cy="653.2" r="4.1"/>
<circle cx="145.7" cy="647.1" r="4.1"/>
<circle cx="131.8" cy="653.9" r="4.1"/>
<circle cx="125.4" cy="659.4" r="4.1"/>
<circle cx="140.8" cy="655.5" r="4.1"/>
<circle cx="157.0" cy="635.3" r="4.1"/>
<circle cx="140.7" cy="662.8" r="4.1"/>
<circle cx="134.5" cy="645.5" r="4.1"/>
<circle cx="128.8" cy="657.5" r="4.1"/>
<circle cx="146.4" cy="636.3" r="4.1"/>
<circle cx="152.9" cy="632.0" r="4.1"/>
<circle cx="142.1" cy="668.9" r="4.1"/>
<circle cx="137.4" cy="642.7" r="4.1"/>
<circle cx="144.5" cy="633.9" r="4.1"/>
<circle cx="130.8" cy="646.5" r="4.1"/>
<circle cx="131.5" cy="631.6" r="4.1"/>
<circle cx="138.8" cy="634.8" r="4.1"/>
<circle cx="126.3" cy="646.0" r="4.1"/>
<circle cx="149.8" cy="659.8" r="4.1"/>
<circle cx="157.6" cy="655.9" r="4.1"/>
<circle cx="130.2" cy="644.7" r="4.1"/>
<circle cx="134.5" cy="641.5" r="4.1"/>
<circle cx="140.6" cy="654.9" r="4.1"/>
<circle cx="141.2" cy="636.4" r="4.1"/>
<circle cx="133.1" cy="637.2" r="4.1"/>
<circle cx="168.7" cy="664.3" r="4.1"/>
<circle cx="150.7" cy="660.8" r="4.1"/>
<circle cx="140.6" cy="651.3" r="4.1"/>
<circle cx="134.6" cy="636.6" r="4.1"/>
<circle cx="150.9" cy="641.3" r="4.1"/>
<circle cx="137.0" cy="668.1" r="4.1"/>
<circle cx="134.3" cy="666.3" r="4.1"/>
<circle cx="126.3" cy="629.7" r="4.1"/>
<circle cx="126.3" cy="649.6" r="4.1"/>
<circle cx="126.5" cy="657.1" r="4.1"/>
<circle cx="145.4" cy="664.4" r="4.1"/>
<circle cx="140.1" cy="657.7" r="4.1"/>
<circle cx="130.4" cy="645.1" r="4.1"/>
<circle cx="135.3" cy="664.4" r="4.1"/>
<circle cx="137.6" cy="644.6" r="4.1"/>
<circle cx="137.8" cy="639.0" r="4.1"/>
<circle cx="146.4" cy="664.4" r="4.1"/>
<circle cx="142.5" cy="653.5" r="4.1"/>
<circle cx="135.3" cy="632.6" r="4.1"/>
<circle cx="125.0" cy="662.6" r="4.1"/>
<circle cx="140.3" cy="634.9" r="4.1"/>
<circle cx="128.3" cy="659.0" r="4.1"/>
<circle cx="132.0" cy="657.2" r="4.1"/>
<circle cx="126.7" cy="632.1" r="4.1"/>
<circle cx="132.4" cy="652.2" r="4.1"/>
<circle cx="128.8" cy="633.2" r="4.1"/>
<circle cx="172.8" cy="656.5" r="4.1"/>
<circle cx="148.4" cy="674.4" r="4.1"/>
<circle cx="163.0" cy="634.0" r="4.1"/>
<circle cx="143.5" cy="674.8" r="4.1"/>
<circle cx="170.7" cy="633.3" r="4.1"/>
<circle cx="157.1" cy="669.1" r="4.1"/>
<circle cx="147.9" cy="630.7" r="4.1"/>
<circle cx="152.2" cy="682.2" r="4.1"/>
<circle cx="166.9" cy="639.6" r="4.1"/>
<circle cx="172.3" cy="660.0" r="4.1"/>
<circle cx="146.2" cy="642.8" r="4.1"/>
<circle cx="140.9" cy="650.9" r="4.1"/>
<circle cx="149.5" cy="643.8" r="4.1"/>
<circle cx="173.7" cy="664.2" r="4.1"/>
<circle cx="155.8" cy="683.8" r="4.1"/>
<circle cx="164.3" cy="683.2" r="4.1"/>
<circle cx="171.4" cy="658.5" r="4.1"/>
<circle cx="165.2" cy="664.9" r="4.1"/>
<circle cx="168.2" cy="669.3" r="4.1"/>
<circle cx="148.6" cy="648.4" r="4.1"/>
<circle cx="144.2" cy="681.4" r="4.1"/>
<circle cx="175.1" cy="649.9" r="4.1"/>
<circle cx="151.5" cy="634.8" r="4.1"/>
<circle cx="178.4" cy="660.2" r="4.1"/>
<circle cx="177.9" cy="658.4" r="4.1"/>
<circle cx="156.8" cy="671.2" r="4.1"/>
<circle cx="174.3" cy="668.0" r="4.1"/>
<circle cx="148.9" cy="656.9" r="4.1"/>
<circle cx="177.0" cy="652.8" r="4.1"/>
<circle cx="170.3" cy="653.6" r="4.1"/>
<circle cx="171.7" cy="633.1" r="4.1"/>
<circle cx="132.7" cy="632.4" r="4.1"/>
<circle cx="153.1" cy="648.7" r="4.1"/>
<circle cx="177.7" cy="674.9" r="4.1"/>
<circle cx="138.9" cy="676.2" r="4.1"/>
<circle cx="156.5" cy="676.6" r="4.1"/>
<circle cx="150.0" cy="672.6" r="4.1"/>
<circle cx="132.8" cy="654.6" r="4.1"/>
<circle cx="148.2" cy="641.9" r="4.1"/>
<circle cx="146.7" cy="651.7" r="4.1"/>
<circle cx="155.9" cy="658.0" r="4.1"/>
<circle cx="167.1" cy="667.2" r="4.1"/>
<circle cx="177.8" cy="660.1" r="4.1"/>
<circle cx="144.7" cy="661.2" r="4.1"/>
<circle cx="153.2" cy="640.9" r="4.1"/>
<circle cx="148.2" cy="640.5" r="4.1"/>
<circle cx="157.9" cy="630.9" r="4.1"/>
<circle cx="158.1" cy="651.3" r="4.1"/>
<circle cx="132.9" cy="643.3" r="4.1"/>
<circle cx="178.2" cy="656.1" r="4.1"/>
<circle cx="135.6" cy="661.1" r="4.1"/>
<circle cx="165.7" cy="636.1" r="4.1"/>
<circle cx="151.5" cy="639.6" r="4.1"/>
<circle cx="158.1" cy="675.5" r="4.1"/>
<circle cx="143.9" cy="635.2" r="4.1"/>
<circle cx="139.1" cy="663.2" r="4.1"/>
<circle cx="135.9" cy="658.1" r="4.1"/>
<circle cx="170.7" cy="664.5" r="4.1"/>
<circle cx="164.1" cy="627.6" r="4.1"/>
<circle cx="152.9" cy="641.4" r="4.1"/>
<circle cx="124.6" cy="621.1" r="4.1"/>
<circle cx="144.1" cy="619.2" r="4.1"/>
<circle cx="149.8" cy="616.2" r="4.1"/>
<circle cx="163.6" cy="622.7" r="4.1"/>
<circle cx="175.0" cy="621.1" r="4.1"/>
<circle cx="136.8" cy="626.0" r="4.1"/>
<circle cx="147.4" cy="628.4" r="4.1"/>
<circle cx="162.0" cy="629.2" r="4.1"/>
<circle cx="190.4" cy="636.5" r="4.1"/>
<circle cx="190.4" cy="639.8" r="4.1"/>
<circle cx="201.8" cy="635.7" r="4.1"/>
<circle cx="188.8" cy="652.8" r="4.1"/>
<circle cx="201.8" cy="656.0" r="4.1"/>
<circle cx="198.5" cy="661.7" r="4.1"/>
<circle cx="222.1" cy="656.8" r="4.1"/>
<circle cx="226.1" cy="662.5" r="4.1"/>
<circle cx="178.2" cy="660.1" r="4.1"/>
<circle cx="173.3" cy="657.7" r="4.1"/>
<circle cx="174.2" cy="669.8" r="4.1"/>
<circle cx="170.9" cy="673.1" r="4.1"/>
<circle cx="171.7" cy="680.4" r="4.1"/>
<circle cx="180.7" cy="680.4" r="4.1"/>
<circle cx="168.5" cy="686.9" r="4.1"/>
<circle cx="149.0" cy="675.5" r="4.1"/>
<circle cx="154.7" cy="676.3" r="4.1"/>
<circle cx="140.9" cy="679.6" r="4.1"/>
<circle cx="149.8" cy="684.5" r="4.1"/>
<circle cx="157.1" cy="690.1" r="4.1"/>
<circle cx="142.5" cy="691.8" r="4.1"/>
<circle cx="147.4" cy="696.6" r="4.1"/>
<circle cx="134.4" cy="700.7" r="4.1"/>
<circle cx="188.0" cy="704.8" r="4.1"/>
<circle cx="191.2" cy="702.3" r="4.1"/>
<circle cx="149.8" cy="706.4" r="4.1"/>
<circle cx="154.7" cy="712.1" r="4.1"/>
<circle cx="142.5" cy="714.5" r="4.1"/>
<circle cx="132.7" cy="715.3" r="4.1"/>
<circle cx="153.0" cy="720.2" r="4.1"/>
<circle cx="175.0" cy="720.2" r="4.1"/>
<circle cx="132.7" cy="730.7" r="4.1"/>
<circle cx="153.9" cy="729.9" r="4.1"/>
<circle cx="183.1" cy="732.4" r="4.1"/>
<circle cx="219.6" cy="733.5" r="4.1"/>
<circle cx="135.2" cy="739.7" r="4.1"/>
<circle cx="136.0" cy="744.1" r="4.1"/>
<circle cx="143.3" cy="744.9" r="4.1"/>
<circle cx="131.9" cy="753.0" r="4.1"/>
<circle cx="140.0" cy="771.7" r="4.1"/>
<circle cx="160.3" cy="774.1" r="4.1"/>
<circle cx="131.9" cy="794.4" r="4.1"/>
<circle cx="149.0" cy="800.9" r="4.1"/>
<circle cx="133.6" cy="811.5" r="4.1"/>
<circle cx="142.5" cy="822.0" r="4.1"/>
<circle cx="131.1" cy="834.2" r="4.1"/>
<circle cx="132.7" cy="854.5" r="4.1"/>
<circle cx="124.6" cy="883.7" r="4.1"/>
<circle cx="125.4" cy="891.9" r="4.1"/>
<circle cx="139.2" cy="891.9" r="4.1"/>
<circle cx="174.2" cy="888.6" r="4.1"/>
</g>
<line x1="121.25" y1="382.25" x2="402.18" y2="101.40" stroke="#000" stroke-width="3.6" stroke-linecap="square"/>
<line x1="146.80" y1="270.40" x2="158.80" y2="282.40" stroke="#000" stroke-width="3.6" stroke-linecap="butt"/>
<line x1="146.80" y1="282.40" x2="158.80" y2="270.40" stroke="#000" stroke-width="3.6" stroke-linecap="butt"/>
<line x1="107.20" y1="86.20" x2="107.20" y2="397.50" stroke="#000" stroke-width="3.0" stroke-linecap="butt"/>
<line x1="105.70" y1="396.00" x2="417.80" y2="396.00" stroke="#000" stroke-width="3.0" stroke-linecap="butt"/>
<line x1="92.50" y1="375.40" x2="107.20" y2="375.40" stroke="#000" stroke-width="3.0" stroke-linecap="butt"/>
<text x="52.13" y="382.00" font-size="17.43" textLength="25.67" lengthAdjust="spacingAndGlyphs">0.0</text>
<line x1="92.50" y1="306.90" x2="107.20" y2="306.90" stroke="#000" stroke-width="3.0" stroke-linecap="butt"/>
<text x="52.72" y="313.50" font-size="17.43" textLength="25.30" lengthAdjust="spacingAndGlyphs">0.2</text>
<line x1="92.50" y1="238.40" x2="107.20" y2="238.40" stroke="#000" stroke-width="3.0" stroke-linecap="butt"/>
<text x="51.96" y="245.00" font-size="17.43" textLength="25.65" lengthAdjust="spacingAndGlyphs">0.4</text>
<line x1="92.50" y1="169.90" x2="107.20" y2="169.90" stroke="#000" stroke-width="3.0" stroke-linecap="butt"/>
<text x="52.08" y="176.50" font-size="17.43" textLength="25.81" lengthAdjust="spacingAndGlyphs">0.6</text>
<line x1="92.50" y1="101.40" x2="107.20" y2="101.40" stroke="#000" stroke-width="3.0" stroke-linecap="butt"/>
<text x="52.17" y="108.00" font-size="17.43" textLength="25.72" lengthAdjust="spacingAndGlyphs">0.8</text>
<line x1="128.10" y1="396.00" x2="128.10" y2="410.70" stroke="#000" stroke-width="3.0" stroke-linecap="butt"/>
<text x="115.24" y="437.60" font-size="17.43" textLength="25.67" lengthAdjust="spacingAndGlyphs">0.0</text>
<line x1="196.62" y1="396.00" x2="196.62" y2="410.70" stroke="#000" stroke-width="3.0" stroke-linecap="butt"/>
<text x="184.06" y="437.60" font-size="17.43" textLength="25.30" lengthAdjust="spacingAndGlyphs">0.2</text>
<line x1="265.14" y1="396.00" x2="265.14" y2="410.70" stroke="#000" stroke-width="3.0" stroke-linecap="butt"/>
<text x="252.20" y="437.60" font-size="17.43" textLength="25.65" lengthAdjust="spacingAndGlyphs">0.4</text>
<line x1="333.66" y1="396.00" x2="333.66" y2="410.70" stroke="#000" stroke-width="3.0" stroke-linecap="butt"/>
<text x="320.78" y="437.60" font-size="17.43" textLength="25.81" lengthAdjust="spacingAndGlyphs">0.6</text>
<line x1="402.18" y1="396.00" x2="402.18" y2="410.70" stroke="#000" stroke-width="3.0" stroke-linecap="butt"/>
<text x="389.34" y="437.60" font-size="17.43" textLength="25.72" lengthAdjust="spacingAndGlyphs">0.8</text>
<text x="125.44" y="39.10" font-size="21.00" textLength="267.53" lengthAdjust="spacingAndGlyphs">TissueNet (all test images)</text>
<text x="117.25" y="62.40" font-size="21.00" textLength="291.45" lengthAdjust="spacingAndGlyphs">average precision @ IoU=0.5</text>
<text x="171.73" y="471.20" font-size="17.43" textLength="180.66" lengthAdjust="spacingAndGlyphs">pretrained w/ LiveCell</text>
<text x="174.11" y="489.30" font-size="17.43" textLength="174.50" lengthAdjust="spacingAndGlyphs">(# training ROIs = 0)</text>
<text x="12.90" y="334.44" font-size="17.43" textLength="186.57" lengthAdjust="spacingAndGlyphs" transform="rotate(-90 12.90 334.44)">pretrained w/ Cellpose</text>
<text x="31.70" y="328.94" font-size="17.43" textLength="174.50" lengthAdjust="spacingAndGlyphs" transform="rotate(-90 31.70 328.94)">(# training ROIs = 0)</text>
<text x="2.72" y="19.50" font-size="25.48" textLength="14.14" lengthAdjust="spacingAndGlyphs" font-weight="bold">a</text>
</g>
<line x1="118.84" y1="898.25" x2="354.84" y2="662.34" stroke="#000" stroke-width="3.6" stroke-linecap="square"/>
<line x1="122.60" y1="771.50" x2="134.60" y2="783.50" stroke="#000" stroke-width="3.6" stroke-linecap="butt"/>
<line x1="122.60" y1="783.50" x2="134.60" y2="771.50" stroke="#000" stroke-width="3.6" stroke-linecap="butt"/>
<line x1="107.20" y1="601.60" x2="107.20" y2="913.50" stroke="#000" stroke-width="3.0" stroke-linecap="butt"/>
<line x1="105.70" y1="912.00" x2="417.60" y2="912.00" stroke="#000" stroke-width="3.0" stroke-linecap="butt"/>
<line x1="92.50" y1="892.50" x2="107.20" y2="892.50" stroke="#000" stroke-width="3.0" stroke-linecap="butt"/>
<text x="52.13" y="899.10" font-size="17.43" textLength="25.67" lengthAdjust="spacingAndGlyphs">0.0</text>
<line x1="92.50" y1="834.96" x2="107.20" y2="834.96" stroke="#000" stroke-width="3.0" stroke-linecap="butt"/>
<text x="52.72" y="841.56" font-size="17.43" textLength="25.30" lengthAdjust="spacingAndGlyphs">0.2</text>
<line x1="92.50" y1="777.42" x2="107.20" y2="777.42" stroke="#000" stroke-width="3.0" stroke-linecap="butt"/>
<text x="51.96" y="784.02" font-size="17.43" textLength="25.65" lengthAdjust="spacingAndGlyphs">0.4</text>
<line x1="92.50" y1="719.88" x2="107.20" y2="719.88" stroke="#000" stroke-width="3.0" stroke-linecap="butt"/>
<text x="52.08" y="726.48" font-size="17.43" textLength="25.81" lengthAdjust="spacingAndGlyphs">0.6</text>
<line x1="92.50" y1="662.34" x2="107.20" y2="662.34" stroke="#000" stroke-width="3.0" stroke-linecap="butt"/>
<text x="52.17" y="668.94" font-size="17.43" textLength="25.72" lengthAdjust="spacingAndGlyphs">0.8</text>
<line x1="92.50" y1="604.80" x2="107.20" y2="604.80" stroke="#000" stroke-width="3.0" stroke-linecap="butt"/>
<text x="52.23" y="611.40" font-size="17.43" textLength="25.56" lengthAdjust="spacingAndGlyphs">1.0</text>
<line x1="124.60" y1="912.00" x2="124.60" y2="926.70" stroke="#000" stroke-width="3.0" stroke-linecap="butt"/>
<text x="111.74" y="953.60" font-size="17.43" textLength="25.67" lengthAdjust="spacingAndGlyphs">0.0</text>
<line x1="182.16" y1="912.00" x2="182.16" y2="926.70" stroke="#000" stroke-width="3.0" stroke-linecap="butt"/>
<text x="169.60" y="953.60" font-size="17.43" textLength="25.30" lengthAdjust="spacingAndGlyphs">0.2</text>
<line x1="239.72" y1="912.00" x2="239.72" y2="926.70" stroke="#000" stroke-width="3.0" stroke-linecap="butt"/>
<text x="226.78" y="953.60" font-size="17.43" textLength="25.65" lengthAdjust="spacingAndGlyphs">0.4</text>
<line x1="297.28" y1="912.00" x2="297.28" y2="926.70" stroke="#000" stroke-width="3.0" stroke-linecap="butt"/>
<text x="284.40" y="953.60" font-size="17.43" textLength="25.81" lengthAdjust="spacingAndGlyphs">0.6</text>
<line x1="354.84" y1="912.00" x2="354.84" y2="926.70" stroke="#000" stroke-width="3.0" stroke-linecap="butt"/>
<text x="342.00" y="953.60" font-size="17.43" textLength="25.72" lengthAdjust="spacingAndGlyphs">0.8</text>
<line x1="412.40" y1="912.00" x2="412.40" y2="926.70" stroke="#000" stroke-width="3.0" stroke-linecap="butt"/>
<text x="399.28" y="953.60" font-size="17.43" textLength="25.56" lengthAdjust="spacingAndGlyphs">1.0</text>
<text x="135.20" y="554.70" font-size="21.00" textLength="247.05" lengthAdjust="spacingAndGlyphs">LiveCell (all test images)</text>
<text x="117.45" y="578.00" font-size="21.00" textLength="291.45" lengthAdjust="spacingAndGlyphs">average precision @ IoU=0.5</text>
<text x="163.06" y="986.80" font-size="17.43" textLength="197.20" lengthAdjust="spacingAndGlyphs">pretrained w/ TissueNet</text>
<text x="174.71" y="1004.60" font-size="17.43" textLength="174.50" lengthAdjust="spacingAndGlyphs">(# training ROIs = 0)</text>
<text x="12.90" y="851.64" font-size="17.43" textLength="186.57" lengthAdjust="spacingAndGlyphs" transform="rotate(-90 12.90 851.64)">pretrained w/ Cellpose</text>
<text x="31.70" y="845.19" font-size="17.43" textLength="174.50" lengthAdjust="spacingAndGlyphs" transform="rotate(-90 31.70 845.19)">(# training ROIs = 0)</text>
<text x="2.32" y="535.50" font-size="25.48" textLength="13.49" lengthAdjust="spacingAndGlyphs" font-weight="bold">c</text>
<clipPath id="cb"><rect x="551.2" y="68.8" width="308.79999999999995" height="344.59999999999997"/></clipPath>
<g clip-path="url(#cb)">
<polyline points="561.40,377.20 565.00,288.40 573.30,221.30 591.90,182.60 628.90,128.30 702.00,98.50 862.00,75.90" fill="none" stroke="#78cabf" stroke-width="2.1" stroke-linejoin="round" stroke-dasharray="7.8 3.4"/>
<circle cx="561.40" cy="377.20" r="3.9" fill="#78cabf"/>
<circle cx="565.00" cy="288.40" r="3.9" fill="#78cabf"/>
<circle cx="573.30" cy="221.30" r="3.9" fill="#78cabf"/>
<circle cx="591.90" cy="182.60" r="3.9" fill="#78cabf"/>
<circle cx="628.90" cy="128.30" r="3.9" fill="#78cabf"/>
<circle cx="702.00" cy="98.50" r="3.9" fill="#78cabf"/>
<polyline points="555.60,394.90 556.10,322.50 563.60,212.00 572.80,148.70 591.80,124.00 628.90,97.70 702.40,81.50 862.00,70.60" fill="none" stroke="#78cabf" stroke-width="2.1" stroke-linejoin="round"/>
<circle cx="555.60" cy="394.90" r="3.9" fill="#78cabf"/>
<circle cx="556.10" cy="322.50" r="3.9" fill="#78cabf"/>
<circle cx="563.60" cy="212.00" r="3.9" fill="#78cabf"/>
<circle cx="572.80" cy="148.70" r="3.9" fill="#78cabf"/>
<circle cx="591.80" cy="124.00" r="3.9" fill="#78cabf"/>
<circle cx="628.90" cy="97.70" r="3.9" fill="#78cabf"/>
<circle cx="702.40" cy="81.50" r="3.9" fill="#78cabf"/>
<polyline points="557.50,560.00 559.80,283.10 564.00,229.50 573.30,191.00 592.00,145.60 629.10,117.00 702.40,94.90 862.00,77.40" fill="none" stroke="#800080" stroke-width="2.1" stroke-linejoin="round"/>
<circle cx="559.80" cy="283.10" r="3.9" fill="#800080"/>
<circle cx="564.00" cy="229.50" r="3.9" fill="#800080"/>
<circle cx="573.30" cy="191.00" r="3.9" fill="#800080"/>
<circle cx="592.00" cy="145.60" r="3.9" fill="#800080"/>
<circle cx="629.10" cy="117.00" r="3.9" fill="#800080"/>
<circle cx="702.40" cy="94.90" r="3.9" fill="#800080"/>
</g>
<line x1="551.20" y1="68.80" x2="551.20" y2="414.90" stroke="#000" stroke-width="3.0" stroke-linecap="butt"/>
<line x1="549.70" y1="413.40" x2="862.00" y2="413.40" stroke="#000" stroke-width="3.0" stroke-linecap="butt"/>
<line x1="536.50" y1="413.40" x2="551.20" y2="413.40" stroke="#000" stroke-width="3.0" stroke-linecap="butt"/>
<text x="485.72" y="420.00" font-size="17.43" textLength="35.95" lengthAdjust="spacingAndGlyphs">0.55</text>
<line x1="536.50" y1="338.80" x2="551.20" y2="338.80" stroke="#000" stroke-width="3.0" stroke-linecap="butt"/>
<text x="485.38" y="345.40" font-size="17.43" textLength="36.25" lengthAdjust="spacingAndGlyphs">0.60</text>
<line x1="536.50" y1="264.20" x2="551.20" y2="264.20" stroke="#000" stroke-width="3.0" stroke-linecap="butt"/>
<text x="485.72" y="270.80" font-size="17.43" textLength="35.95" lengthAdjust="spacingAndGlyphs">0.65</text>
<line x1="536.50" y1="189.60" x2="551.20" y2="189.60" stroke="#000" stroke-width="3.0" stroke-linecap="butt"/>
<text x="485.38" y="196.20" font-size="17.43" textLength="36.25" lengthAdjust="spacingAndGlyphs">0.70</text>
<line x1="536.50" y1="115.00" x2="551.20" y2="115.00" stroke="#000" stroke-width="3.0" stroke-linecap="butt"/>
<text x="485.72" y="121.60" font-size="17.43" textLength="35.95" lengthAdjust="spacingAndGlyphs">0.75</text>
<line x1="554.60" y1="413.40" x2="554.60" y2="428.10" stroke="#000" stroke-width="3.0" stroke-linecap="butt"/>
<text x="549.71" y="454.20" font-size="17.43" textLength="9.76" lengthAdjust="spacingAndGlyphs">0</text>
<line x1="642.10" y1="413.40" x2="642.10" y2="428.10" stroke="#000" stroke-width="3.0" stroke-linecap="butt"/>
<text x="621.18" y="454.20" font-size="17.43" textLength="41.64" lengthAdjust="spacingAndGlyphs">2000</text>
<line x1="729.60" y1="413.40" x2="729.60" y2="428.10" stroke="#000" stroke-width="3.0" stroke-linecap="butt"/>
<text x="709.01" y="454.20" font-size="17.43" textLength="41.50" lengthAdjust="spacingAndGlyphs">4000</text>
<line x1="817.10" y1="413.40" x2="817.10" y2="428.10" stroke="#000" stroke-width="3.0" stroke-linecap="butt"/>
<text x="796.16" y="454.20" font-size="17.43" textLength="41.69" lengthAdjust="spacingAndGlyphs">6000</text>
<text x="643.14" y="487.80" font-size="17.43" textLength="125.58" lengthAdjust="spacingAndGlyphs"># training ROIs</text>
<text x="464.80" y="362.38" font-size="17.43" textLength="241.90" lengthAdjust="spacingAndGlyphs" transform="rotate(-90 464.80 362.38)">average precision @ IoU=0.5</text>
<text x="574.29" y="21.90" font-size="21.00" textLength="267.53" lengthAdjust="spacingAndGlyphs">TissueNet (all test images)</text>
<text x="626.59" y="45.20" font-size="21.00" textLength="159.01" lengthAdjust="spacingAndGlyphs">dataset training</text>
<line x1="692.70" y1="302.60" x2="727.20" y2="302.60" stroke="#78cabf" stroke-width="2.1" stroke-dasharray="7.8 3.4"/>
<circle cx="710.00" cy="302.60" r="3.9" fill="#78cabf"/>
<text x="740.71" y="308.80" font-size="17.43" textLength="104.63" lengthAdjust="spacingAndGlyphs">from scratch</text>
<line x1="692.70" y1="338.30" x2="727.20" y2="338.30" stroke="#78cabf" stroke-width="2.1" stroke-linecap="butt"/>
<circle cx="710.00" cy="338.30" r="3.9" fill="#78cabf"/>
<text x="739.76" y="332.70" font-size="17.43" textLength="86.07" lengthAdjust="spacingAndGlyphs">pretrained</text>
<text x="741.00" y="351.20" font-size="17.43" textLength="94.26" lengthAdjust="spacingAndGlyphs">w/ Cellpose</text>
<line x1="692.70" y1="381.40" x2="727.20" y2="381.40" stroke="#800080" stroke-width="2.1" stroke-linecap="butt"/>
<circle cx="710.00" cy="381.40" r="3.9" fill="#800080"/>
<text x="739.76" y="376.10" font-size="17.43" textLength="86.07" lengthAdjust="spacingAndGlyphs">pretrained</text>
<text x="741.00" y="394.20" font-size="17.43" textLength="88.34" lengthAdjust="spacingAndGlyphs">w/ LiveCell</text>
<clipPath id="cd"><rect x="551.2" y="584.5999999999999" width="308.79999999999995" height="344.6"/></clipPath>
<g clip-path="url(#cd)">
<polyline points="565.50,1000.00 567.10,922.40 578.60,844.80 600.00,785.20 648.10,747.00 741.70,686.80 862.00,656.20" fill="none" stroke="#e070ba" stroke-width="2.1" stroke-linejoin="round" stroke-dasharray="7.8 3.4"/>
<circle cx="567.10" cy="922.40" r="3.9" fill="#e070ba"/>
<circle cx="578.60" cy="844.80" r="3.9" fill="#e070ba"/>
<circle cx="600.00" cy="785.20" r="3.9" fill="#e070ba"/>
<circle cx="648.10" cy="747.00" r="3.9" fill="#e070ba"/>
<circle cx="741.70" cy="686.80" r="3.9" fill="#e070ba"/>
<polyline points="556.80,861.20 560.30,803.60 566.80,754.90 578.70,700.90 599.90,668.40 648.20,642.20 741.70,621.70 862.00,609.60" fill="none" stroke="#e070ba" stroke-width="2.1" stroke-linejoin="round"/>
<circle cx="556.80" cy="861.20" r="3.9" fill="#e070ba"/>
<circle cx="560.30" cy="803.60" r="3.9" fill="#e070ba"/>
<circle cx="566.80" cy="754.90" r="3.9" fill="#e070ba"/>
<circle cx="578.70" cy="700.90" r="3.9" fill="#e070ba"/>
<circle cx="599.90" cy="668.40" r="3.9" fill="#e070ba"/>
<circle cx="648.20" cy="642.20" r="3.9" fill="#e070ba"/>
<circle cx="741.70" cy="621.70" r="3.9" fill="#e070ba"/>
<polyline points="559.80,1000.00 561.20,846.40 567.00,791.30 578.70,764.80 599.90,726.70 648.20,687.10 744.30,649.70 862.00,632.80" fill="none" stroke="#06067e" stroke-width="2.1" stroke-linejoin="round"/>
<circle cx="561.20" cy="846.40" r="3.9" fill="#06067e"/>
<circle cx="567.00" cy="791.30" r="3.9" fill="#06067e"/>
<circle cx="578.70" cy="764.80" r="3.9" fill="#06067e"/>
<circle cx="599.90" cy="726.70" r="3.9" fill="#06067e"/>
<circle cx="648.20" cy="687.10" r="3.9" fill="#06067e"/>
<circle cx="744.30" cy="649.70" r="3.9" fill="#06067e"/>
</g>
<line x1="551.20" y1="584.60" x2="551.20" y2="930.70" stroke="#000" stroke-width="3.0" stroke-linecap="butt"/>
<line x1="549.70" y1="929.20" x2="862.00" y2="929.20" stroke="#000" stroke-width="3.0" stroke-linecap="butt"/>
<line x1="536.50" y1="929.30" x2="551.20" y2="929.30" stroke="#000" stroke-width="3.0" stroke-linecap="butt"/>
<text x="485.38" y="935.90" font-size="17.43" textLength="36.25" lengthAdjust="spacingAndGlyphs">0.50</text>
<line x1="536.50" y1="854.60" x2="551.20" y2="854.60" stroke="#000" stroke-width="3.0" stroke-linecap="butt"/>
<text x="485.72" y="861.20" font-size="17.43" textLength="35.95" lengthAdjust="spacingAndGlyphs">0.55</text>
<line x1="536.50" y1="779.90" x2="551.20" y2="779.90" stroke="#000" stroke-width="3.0" stroke-linecap="butt"/>
<text x="485.38" y="786.50" font-size="17.43" textLength="36.25" lengthAdjust="spacingAndGlyphs">0.60</text>
<line x1="536.50" y1="705.20" x2="551.20" y2="705.20" stroke="#000" stroke-width="3.0" stroke-linecap="butt"/>
<text x="485.72" y="711.80" font-size="17.43" textLength="35.95" lengthAdjust="spacingAndGlyphs">0.65</text>
<line x1="536.50" y1="630.50" x2="551.20" y2="630.50" stroke="#000" stroke-width="3.0" stroke-linecap="butt"/>
<text x="485.38" y="637.10" font-size="17.43" textLength="36.25" lengthAdjust="spacingAndGlyphs">0.70</text>
<line x1="554.60" y1="929.20" x2="554.60" y2="943.90" stroke="#000" stroke-width="3.0" stroke-linecap="butt"/>
<text x="549.71" y="971.00" font-size="17.43" textLength="9.76" lengthAdjust="spacingAndGlyphs">0</text>
<line x1="642.10" y1="929.20" x2="642.10" y2="943.90" stroke="#000" stroke-width="3.0" stroke-linecap="butt"/>
<text x="621.18" y="971.00" font-size="17.43" textLength="41.64" lengthAdjust="spacingAndGlyphs">2000</text>
<line x1="729.60" y1="929.20" x2="729.60" y2="943.90" stroke="#000" stroke-width="3.0" stroke-linecap="butt"/>
<text x="709.01" y="971.00" font-size="17.43" textLength="41.50" lengthAdjust="spacingAndGlyphs">4000</text>
<line x1="817.10" y1="929.20" x2="817.10" y2="943.90" stroke="#000" stroke-width="3.0" stroke-linecap="butt"/>
<text x="796.16" y="971.00" font-size="17.43" textLength="41.69" lengthAdjust="spacingAndGlyphs">6000</text>
<text x="643.14" y="1003.60" font-size="17.43" textLength="125.58" lengthAdjust="spacingAndGlyphs"># training ROIs</text>
<text x="464.80" y="878.18" font-size="17.43" textLength="241.90" lengthAdjust="spacingAndGlyphs" transform="rotate(-90 464.80 878.18)">average precision @ IoU=0.5</text>
<text x="583.35" y="537.70" font-size="21.00" textLength="247.05" lengthAdjust="spacingAndGlyphs">LiveCell (all test images)</text>
<text x="626.59" y="561.00" font-size="21.00" textLength="159.01" lengthAdjust="spacingAndGlyphs">dataset training</text>
<line x1="691.60" y1="818.60" x2="726.10" y2="818.60" stroke="#e070ba" stroke-width="2.1" stroke-dasharray="7.8 3.4"/>
<circle cx="708.90" cy="818.60" r="3.9" fill="#e070ba"/>
<text x="739.71" y="824.30" font-size="17.43" textLength="104.63" lengthAdjust="spacingAndGlyphs">from scratch</text>
<line x1="691.60" y1="853.80" x2="726.10" y2="853.80" stroke="#e070ba" stroke-width="2.1" stroke-linecap="butt"/>
<circle cx="708.90" cy="853.80" r="3.9" fill="#e070ba"/>
<text x="738.76" y="848.60" font-size="17.43" textLength="86.07" lengthAdjust="spacingAndGlyphs">pretrained</text>
<text x="740.00" y="867.10" font-size="17.43" textLength="94.26" lengthAdjust="spacingAndGlyphs">w/ Cellpose</text>
<line x1="691.60" y1="897.10" x2="726.10" y2="897.10" stroke="#06067e" stroke-width="2.1" stroke-linecap="butt"/>
<circle cx="708.90" cy="897.10" r="3.9" fill="#06067e"/>
<text x="738.76" y="891.80" font-size="17.43" textLength="86.07" lengthAdjust="spacingAndGlyphs">pretrained</text>
<text x="740.00" y="910.40" font-size="17.43" textLength="104.87" lengthAdjust="spacingAndGlyphs">w/ TissueNet</text>
<text x="446.34" y="18.90" font-size="25.48" textLength="17.34" lengthAdjust="spacingAndGlyphs" font-weight="bold">b</text>
<text x="446.31" y="534.70" font-size="25.48" textLength="17.41" lengthAdjust="spacingAndGlyphs" font-weight="bold">d</text>
</svg>
</body></html>
